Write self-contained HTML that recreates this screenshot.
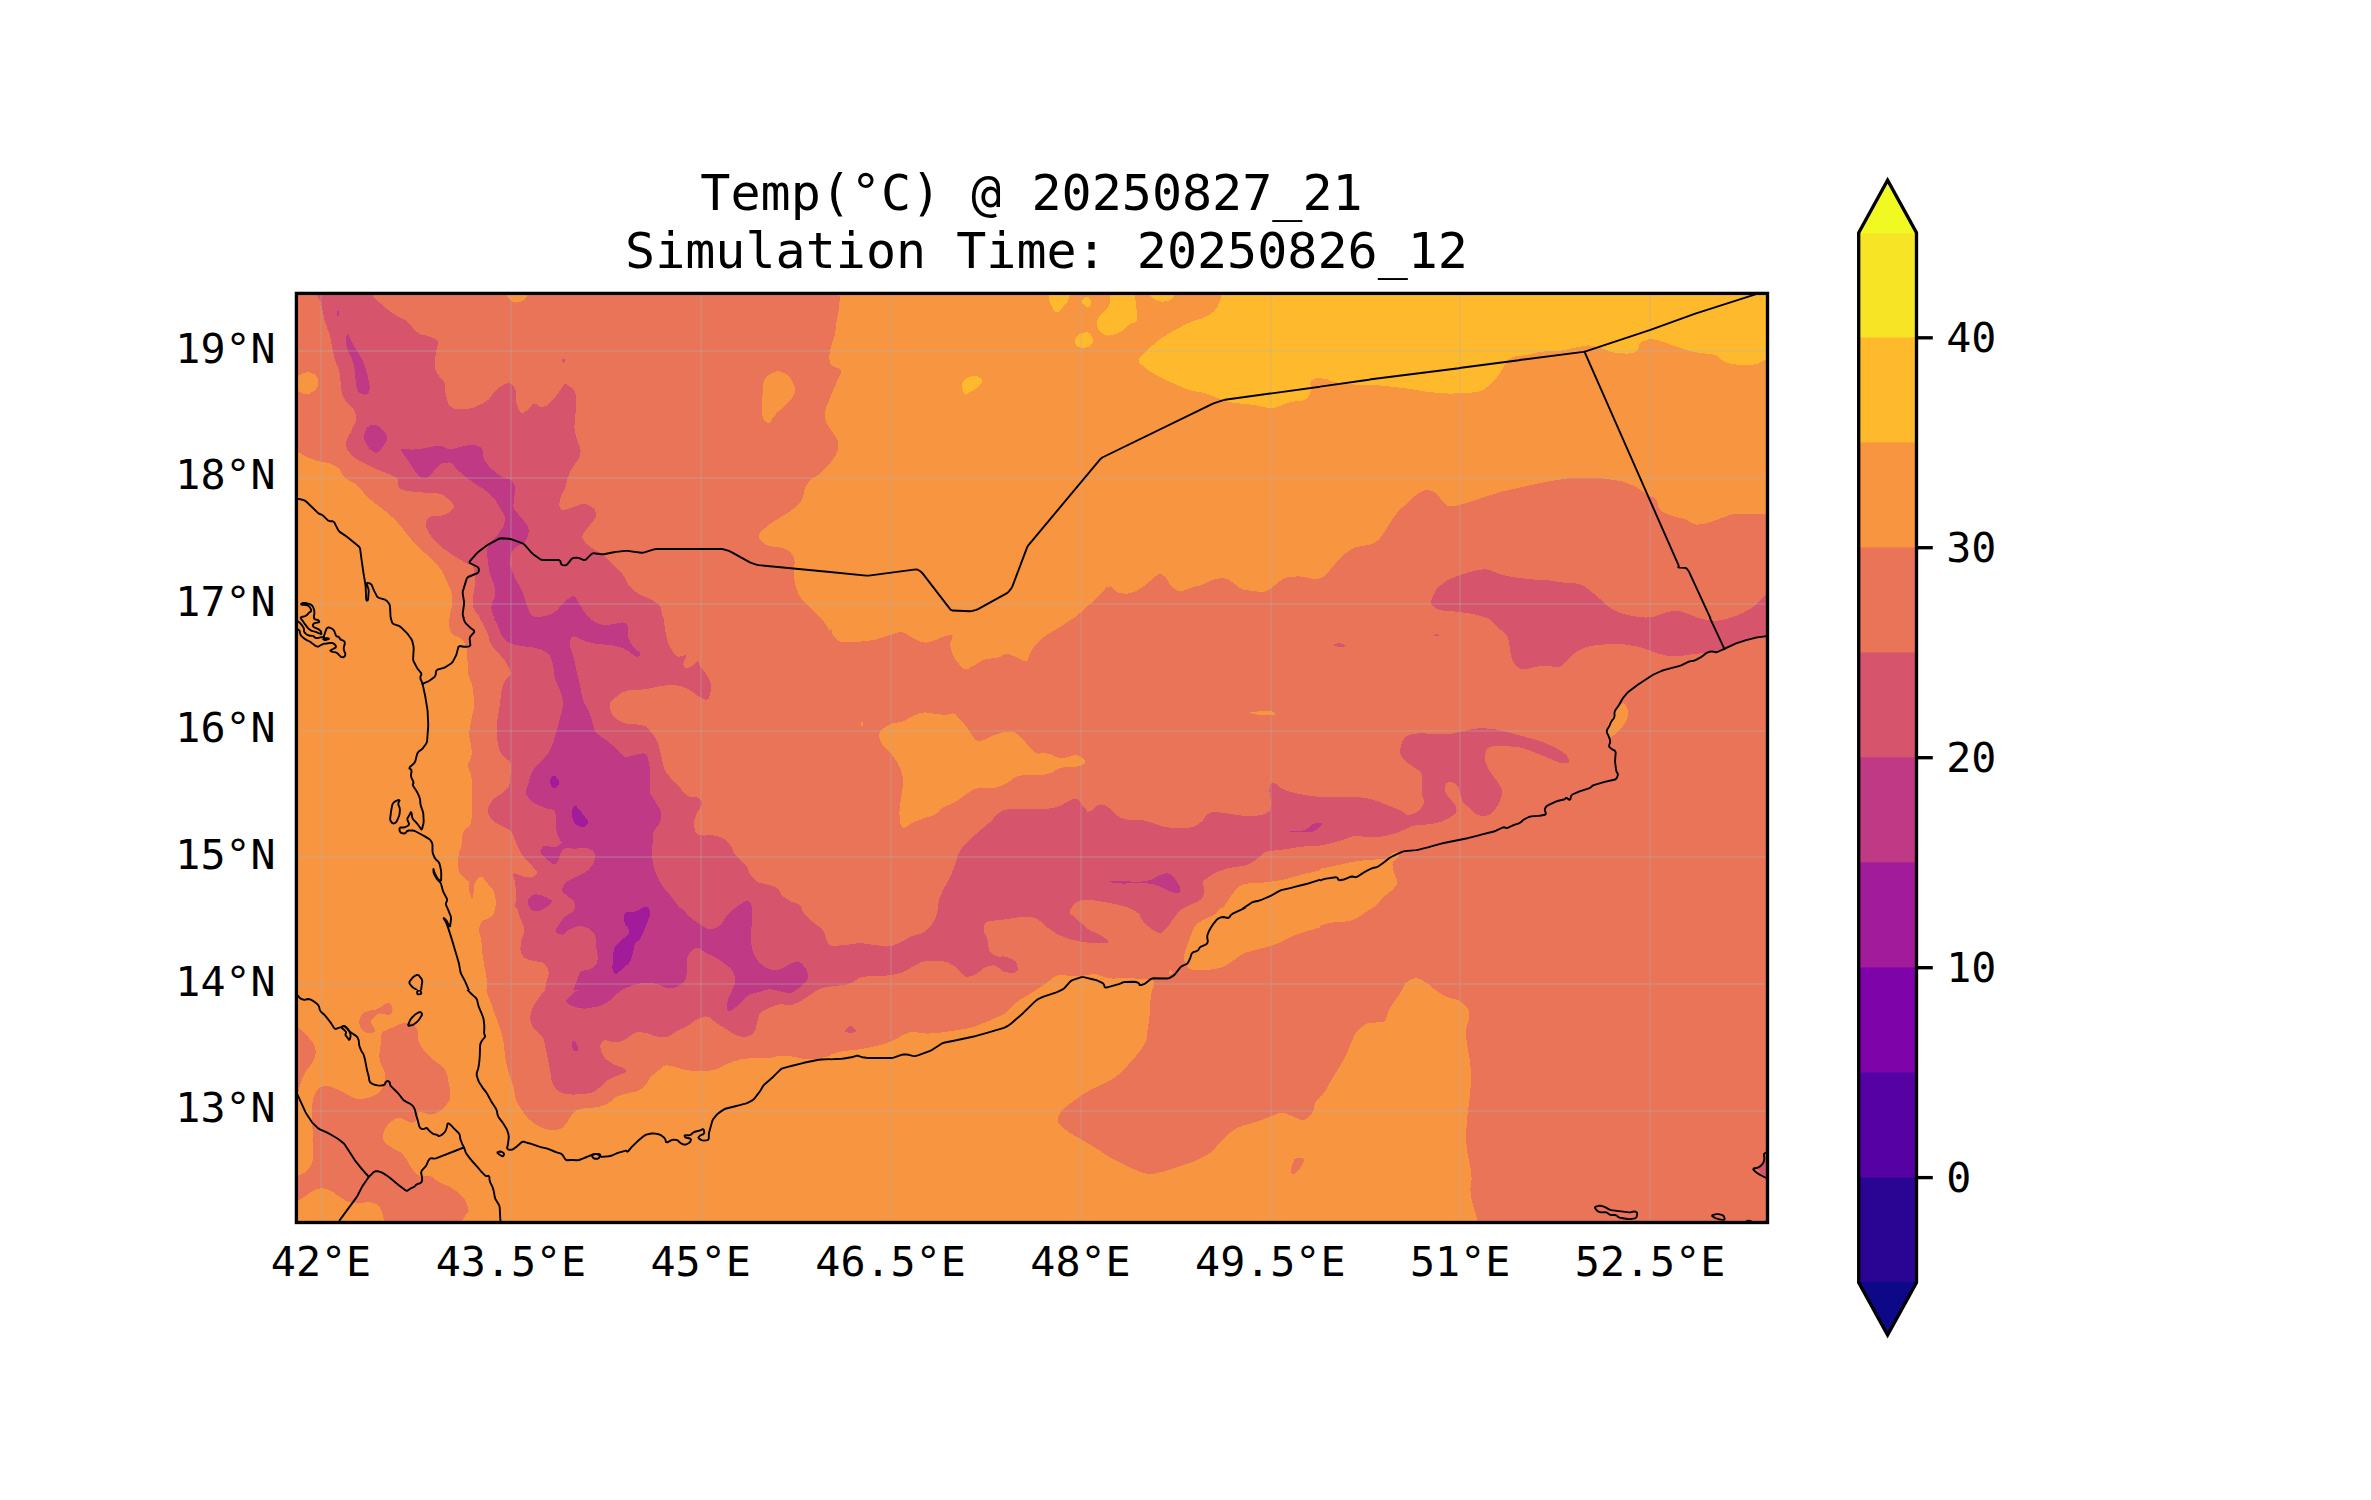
<!DOCTYPE html>
<html lang="en"><head><meta charset="utf-8"><title>Temp map</title>
<style>html,body{margin:0;padding:0;background:#fff}body{width:2371px;height:1500px;overflow:hidden}svg{display:block}text{font-family:"DejaVu Sans Mono","Liberation Mono",monospace;fill:#000}.t{font-size:50px;text-anchor:middle}.k{font-size:41.67px}</style></head><body>
<svg width="2371" height="1500" viewBox="0 0 2371 1500">
<defs><clipPath id="mapclip"><rect x="296.4" y="293.4" width="1471.1" height="929.1"/></clipPath>
<clipPath id="c0"><rect x="296" y="293" width="534" height="325"/></clipPath>
<clipPath id="c1"><rect x="830" y="293" width="490" height="325"/></clipPath>
<clipPath id="c2"><rect x="1320" y="293" width="448" height="325"/></clipPath>
<clipPath id="c3"><rect x="296" y="618" width="534" height="290"/></clipPath>
<clipPath id="c4"><rect x="830" y="618" width="490" height="290"/></clipPath>
<clipPath id="c5"><rect x="1320" y="618" width="448" height="290"/></clipPath>
<clipPath id="c6"><rect x="296" y="908" width="534" height="315"/></clipPath>
<clipPath id="c7"><rect x="296" y="990" width="294" height="233"/></clipPath>
<clipPath id="c8"><rect x="830" y="908" width="490" height="315"/></clipPath>
<clipPath id="c9"><rect x="1320" y="908" width="448" height="315"/></clipPath>
<clipPath id="c10"><rect x="296.4" y="598" width="63.6" height="64"/></clipPath>
<clipPath id="lc0"><path clip-rule="evenodd" d="M296,293H830V618H296ZM296.4,598H360V618H296.4Z"/></clipPath>
<clipPath id="lc1"><path clip-rule="evenodd" d="M830,293H1320V618H830Z"/></clipPath>
<clipPath id="lc2"><path clip-rule="evenodd" d="M1320,293H1768V618H1320Z"/></clipPath>
<clipPath id="lc3"><path clip-rule="evenodd" d="M296,618H830V908H296ZM296.4,618H360V662H296.4Z"/></clipPath>
<clipPath id="lc4"><path clip-rule="evenodd" d="M830,618H1320V908H830Z"/></clipPath>
<clipPath id="lc5"><path clip-rule="evenodd" d="M1320,618H1768V908H1320Z"/></clipPath>
<clipPath id="lc6"><path clip-rule="evenodd" d="M296,908H830V1223H296ZM296,990H590V1223H296Z"/></clipPath>
<clipPath id="lc7"><path clip-rule="evenodd" d="M296,990H590V1223H296Z"/></clipPath>
<clipPath id="lc8"><path clip-rule="evenodd" d="M830,908H1320V1223H830Z"/></clipPath>
<clipPath id="lc9"><path clip-rule="evenodd" d="M1320,908H1768V1223H1320Z"/></clipPath>
<clipPath id="lc10"><path clip-rule="evenodd" d="M296.4,598H360V662H296.4Z"/></clipPath>
</defs>
<rect width="2371" height="1500" fill="#fff"/>
<g clip-path="url(#mapclip)">
<rect x="296.4" y="293.4" width="1471.1" height="929.1" fill="#ea7457"/>
<g clip-path="url(#c0)" shape-rendering="crispEdges">
<rect x="295" y="292" width="536" height="327" fill="#ea7457"/>
<polygon fill="#f89540" points="287.4,449.1 293.6,450.1 298,451.8 303,455 307.8,457.4 314.8,460.2 319.7,461.5 325.3,462.2 330,463.6 336.3,466.4 339.9,469.7 342.6,475.3 346.8,479.1 354.5,483.4 359.7,487.8 365.3,494.8 369.7,499.1 375.3,503.4 380.2,507.2 387.2,512.8 392.2,517.2 397.8,522.8 401.6,527.2 405.9,532.8 409.7,537.5 415.3,543.8 420.2,548.7 427.2,555 432.2,559.7 437.8,565.3 441.4,570.2 444.9,577.2 447.5,582.8 450.7,589.8 452.1,595.2 452.4,602.2 451.8,607.2 450.2,612.8 449.6,617.8 449.9,624.8 450.8,629.1 452.9,633.4 455.7,636.1 460.6,638.9 463.3,641.7 465.4,645.9 466.2,651.4 466.2,661.2 462.2,665 289,665 285,661 285,452.8"/>
<polygon fill="#f89540" points="297.6,376.1 304.4,372.6 309.3,372.2 315.2,374.6 317.6,378.4 317.9,385.8 315.6,390.1 309.4,393.6 304.4,393.9 297.6,391.1 295,387.2 295,380.2"/>
<polygon fill="#f89540" points="509,290 524.8,290 528.5,291.1 527.8,293.9 526.7,296.4 524.6,299.9 521.3,301.6 515,302.6 511.1,301.2 507.6,296.8 506,293.9 505.3,291.1"/>
<polygon fill="#f89540" points="765.1,378.6 768.6,375.1 772.1,373 777.4,371.2 781.8,371.8 787.7,375 791.4,379.3 794.9,387 794.9,392.5 791.4,398.8 787.8,403.2 782.2,408.1 778.3,411.6 774.2,415.9 771.8,418.9 770.2,422.4 768.1,422.9 764.6,420.8 762.8,417.8 761.7,412.2 761.5,406.7 762.2,398.3 762.8,391.7 763.5,383.3"/>
<polygon fill="#f89540" points="838.8,287.2 838.8,292.8 839,297.2 839.7,302.8 839.2,308.3 837.1,316.7 836,323.3 835.3,331.7 834.2,337.8 832.1,344.8 830.7,349.7 829.3,355.3 829.3,359.4 830.7,364.3 833.7,367.1 840,369.2 841.4,372.2 838.6,377.8 836.1,383.3 832.6,391.7 829.9,398.3 826.4,406.7 825,412.5 825,418.8 826.6,423.7 830.9,430 833.9,434.4 837.4,439.3 838.5,443.7 837.8,450 835.9,455 831.6,461.3 827.8,466 822.2,471.6 817.8,475.1 812.2,478.6 808.9,481.7 806.1,485.9 804.5,490.2 803.1,497.2 800.3,502.2 794.7,507.8 789.8,511.6 782.8,515.9 776.7,519.7 768.3,525.3 763.5,529.1 759.7,533.4 758.6,536.1 759.6,538.9 761.7,541.4 765.8,544.9 770.2,546.4 777.2,546.8 782.2,547.9 787.8,550.3 791.1,552.9 793.9,557.1 794.7,561.8 794,569.5 794,575.2 794.7,582.2 796.1,587.8 798.9,594.8 802.5,600 808.8,606.3 813.7,611.2 820,617.5 823.6,622.2 826.4,627.8 828.6,631.7 831.4,635.9 834.2,638.6 838.4,641.4 843.3,642.5 851.7,642.5 858.8,642.2 868.7,641.5 876.4,641.5 886.2,642.2 890,638.5 890,289 886,285 842.8,285.0"/>
<polygon fill="#d6556d" points="316.2,286.8 316.2,291.2 317.4,295.4 320.2,301.4 322,307.7 324.2,318.6 326.1,325.2 328.9,332.2 330.6,338.3 332,346.7 333.1,352.2 334.5,357.8 336.1,362.8 338.9,369.8 340.2,376.5 341,388.5 342.4,394.7 345.1,400.3 347.9,403.9 352.1,407.4 354.5,410.9 356.3,416.6 355.7,421.5 352.5,428.5 350.2,433.2 347.4,438.1 346.2,441.9 346.2,446.8 348.2,451 353.1,456.5 358.6,460.5 368.9,465.7 376.2,469 386.3,473 391.9,475.4 396.8,477.8 398.5,480.1 397.8,483.6 398.3,486.1 400.4,488.9 405.2,490.5 416,492 424,492.6 436,492.9 442.2,494.5 447.8,498.5 451,501.4 453.5,504.9 453.5,507.6 451,511.1 447.8,513.3 442.2,515.4 437.5,516.2 431.2,516.2 427.9,518.2 425.8,523.1 426.1,527.2 428.9,532.8 432.2,537.5 437.8,543.8 442.8,548.2 449.8,553.1 455.2,556.7 462.2,560.9 466.9,563.3 471.8,565.4 474,568.2 474.7,573.1 475,577.2 475,582.8 474.4,588.3 473.1,596.7 472.8,602.2 473.5,607.8 475.7,612.2 480.6,617.8 483.6,622.2 486.4,627.8 488.1,632.2 489.4,637.8 491.1,642.2 493.9,647.8 496.7,653.3 500.9,661.7 506.5,665 673.5,665 677,662.8 675.5,657.2 673.9,653.4 671.1,649.1 669.5,645.9 668,641.7 667,637.8 665.6,632.2 664.5,626.7 663,618.3 662,612.8 660.6,607.2 657.8,603.6 652.2,600.1 647.8,597.9 642.2,595.8 637.5,593.1 631.2,588.2 627.9,584.3 625.8,579.4 623.9,576.1 621.1,572.6 618.1,569.3 613.2,564.4 609.3,560.6 604.4,555.7 600.3,552.6 594.7,549.9 590.9,547.4 586.6,543.9 584.2,541 582.1,537.2 583.2,533.4 588.1,527.4 591.5,523.1 595.5,518.2 596.3,514.3 594.5,509.4 591.5,506.6 586,504.2 581.3,504.2 575,506.6 570.3,508.2 564.7,510 561.7,509.8 559.6,507.2 559.3,503.8 560.7,497.5 562.2,493.4 564.8,489.1 566.1,485.3 567.1,479.7 568.6,475.3 571.4,469.7 574.1,465.3 578.4,459.7 580.2,455.6 580.6,450.7 580,447.1 578.2,442.9 576.8,438.8 575,432.5 574.4,427.2 574.8,420.2 575.4,414.2 576.4,405.8 576.4,399.8 575.4,392.8 572.7,388.5 566.8,384.5 563.8,384.3 562,387.5 559.9,390.7 556.4,395.6 552.5,399.9 546.2,405.9 541.5,407.1 536,404.2 532.4,404.5 528.9,408.5 526.4,410.8 523.6,412.9 521.7,412.9 519.6,410.8 518.1,407.8 516.4,402.2 515.9,397.8 516.1,392.2 515.1,388.5 512.4,384.7 509.6,383.4 505.4,383.6 501.6,385.7 495.9,390.6 492.4,394.4 488.9,399.3 483.9,402.9 473.6,407.6 466,409.2 454,408.8 448.9,405.2 446.1,396.1 444.9,390 444.6,383.7 443.2,380.1 440,377.4 437.8,374.3 435.2,369.4 434.7,363.7 435.8,353.9 436.9,348.1 438.6,343.2 437.2,340.1 432,337.4 427.2,335.7 420.2,334.3 415.3,331 409.7,324 404.8,319.9 397.8,316.4 392.8,313.4 387.2,309.1 382,304.8 374.2,297.7 371.2,292.8 371.2,287.2 367.2,285 320.2,285.0"/>
<polygon fill="#d6556d" points="563.2,358.4 564.8,359.6 565.2,360.8 564.3,362.9 563.6,363.2 562.4,361.8 562.1,360.5 562.4,358.7"/>
<polygon fill="#bf3984" points="348.3,334 350.4,339.2 352.6,343.5 356.1,349.1 358.9,353.7 362.4,360 364.6,365.2 366.7,372.2 368.1,377.8 369.5,384.8 369.7,388.9 369,392.4 367.6,394 364.9,394.7 362.3,394.2 358.5,392.1 356.7,388.8 355.8,382.5 355.3,377.2 354.7,370.2 353.8,365.3 352,359.7 350.3,355.6 347.9,350.7 346.7,346.8 346,341.9 346.1,338.2 347.1,333.8"/>
<polygon fill="#bf3984" points="337.3,310.4 338.7,311.6 339,312.9 338.3,315.3 337.7,315.9 337,314.9 336.8,313.5 336.8,311.0"/>
<polygon fill="#bf3984" points="370,425.4 376.3,425.1 381,427.9 386.6,435.1 386.5,441.3 380.2,450.9 376,453 370.8,450 367.5,446.4 364.5,440.4 364.2,435.2 366.6,428.2"/>
<polygon fill="#bf3984" points="402.7,448.4 411.5,449.6 417.8,449.4 424.8,448.1 430.2,447 437.2,445.6 442.2,446.1 447.8,448.9 452.8,449.2 459.8,447.1 464.7,445.9 470.3,444.9 474.7,445.2 480.3,446.8 482.7,450 483.1,456.3 484.7,460.7 488.5,465.6 492.8,469.8 499.8,475.7 504.4,478.3 509.3,479.2 512.2,481.3 514.8,485.7 515.3,490.2 514.2,497.2 513.6,501.9 513.4,506.8 514.7,510.4 518.5,514.6 521.6,518.2 525.9,523.1 527.9,526.6 528.9,530.9 528.3,534.7 525.9,540.3 522.8,543.6 517.2,546.4 514.2,548.6 512.1,551.4 510.9,554.7 509.9,560.3 510.2,564.7 511.8,570.3 513.6,574.7 516.4,580.3 518.9,585.2 522.4,592.2 524.6,597.8 526.7,604.8 528.6,609.7 531.4,615.3 535.2,617.2 542.2,616.5 547.2,615.4 552.8,613.3 557.2,610 562.8,603.7 567,599.8 572.2,596 575.5,596.8 578.7,602.7 581.4,607.2 584.9,612.8 588.2,616.4 593.1,619.9 597.2,624.3 602.8,632 605,639 605,661 601,665 501.5,665 497.5,661 497.5,626.5 496.2,620.3 493,614.7 491.6,610.9 491.4,606.7 492.2,603.1 494.6,598.2 495.3,593.8 494.7,587.5 493.5,582.8 491,577.2 489.6,572.2 488.4,565.2 487.7,559.8 487,552.8 487.5,548.4 489.3,544.2 491.6,540.9 495.9,536.6 498.9,533.1 502.4,528.2 504.1,524.3 505.1,519.4 504.3,515.3 501.2,509.7 498.6,505.3 495.1,499.7 491.8,495.9 486.9,491.6 482.8,488.6 477.2,485.1 472.8,482.1 467.2,477.9 463.1,474.6 458.2,470.4 455.1,467.3 452.4,463.5 448.8,462.4 442.5,463.4 438.6,465.4 435.1,469.6 432.4,472.7 428.9,476.5 425.9,478 421.7,478 418.4,475.7 414.1,469.8 410.9,465 406.7,458.7 403.7,454.4 400.5,449.8"/>

</g>
<g clip-path="url(#c1)" shape-rendering="crispEdges">
<rect x="829" y="292" width="492" height="327" fill="#f89540"/>
<polygon fill="#ea7457" points="774,285 834.7,285 839,288.9 839.7,298.7 839.3,306.4 837,318.6 836,325.2 835.3,332.2 833.9,338.3 831.1,346.7 829.7,352.2 829,357.8 829.3,361.2 830.7,364.3 833.7,366.5 840,369 841.4,372.2 838.6,377.8 836.1,383.3 832.6,391.7 829.9,398.3 826.4,406.7 825,412.5 825,418.8 826.6,423.7 830.9,430 833.9,434.4 837.4,439.3 838.5,443.7 837.8,450 835.9,455 831.6,461.3 827.8,466 822.2,471.6 817.8,475.1 812.2,478.6 808.9,481.7 806.1,485.9 804.5,490.2 803.1,497.2 800.3,502.2 794.7,507.8 789.8,511.6 782.8,515.9 777.8,518.1 772.2,519.5 770,516 770,289.0"/>
<polygon fill="#ea7457" points="772.2,547 777.8,547 782.2,547.9 787.8,550.3 791.1,552.9 793.9,557.1 794.7,561.8 794,569.5 794,575.2 794.7,582.2 796.1,587.8 798.9,594.8 802.2,600 807.8,606.3 812.2,611.2 817.8,617.5 821.7,622.2 825.9,627.8 828.6,631.7 831.4,635.9 834.2,638.6 838.4,641.4 843.3,642.5 851.7,642.5 858.8,642.2 868.7,641.5 875.8,640.1 884.2,637.4 890.8,635.2 899.2,632.4 904.7,632.9 910.3,637.1 915,639.9 921.3,642.6 926.2,643.2 932.5,641.8 937.2,640.1 942.8,637.4 946.9,636 951.8,635.3 952.7,637.2 949.8,642.8 949.6,647.2 951.7,652.8 953.1,657.2 954.5,662.8 951,665 774,665 770,661 770,551.0"/>
<polygon fill="#ea7457" points="1028,662.8 1029.5,657.2 1031.1,652.8 1033.9,647.2 1037.2,643.1 1042.8,638.2 1048.3,634.3 1056.7,629.4 1063.3,625.3 1071.7,619.7 1077.8,615 1084.8,608.7 1090.2,603.8 1097.2,597.5 1101.9,592.7 1106.8,586.8 1110.7,586.4 1115.6,591.3 1120.2,593.4 1127.2,593.6 1132.8,592.4 1139.8,588.9 1144.7,585.6 1150.3,580.7 1154.2,577.5 1158.4,574.3 1161.4,574 1164.9,576.5 1167.4,579.6 1170.2,584.9 1173.2,588.1 1178.1,590.9 1182.8,590.9 1189.8,588.1 1194.7,586.6 1200.3,585.4 1204.7,583.8 1210.3,580.7 1214.7,579.2 1220.3,578.3 1224.2,578.4 1228.3,579.6 1232.5,582.1 1238.8,587.4 1244.3,589.9 1252,590.9 1257.2,591.5 1262.8,592.2 1266.9,591.1 1271.8,587.6 1276.2,584.2 1282.5,579 1288.9,576.8 1298.7,576.4 1305.2,577 1312.2,578.8 1317.5,578.8 1323.8,577 1328.7,573.2 1335,565.5 1339.7,560.2 1345.3,554.3 1349.7,550.7 1355.3,547.5 1360.7,545.7 1368.8,544.3 1373.8,543.5 1378.2,542.8 1380,546.5 1380,661 1376,665 1031.5,665.0"/>
<polygon fill="#feba2c" points="1222.2,287.8 1221.5,294.8 1220.2,300.2 1217.4,307.2 1213.8,311.6 1207.5,315.9 1201.7,318.5 1193.3,321 1186.7,323.8 1178.3,328.2 1171.7,331.9 1163.3,336.8 1157.2,341.2 1150.2,347.5 1145.2,352.3 1139.3,358.2 1139.3,362.6 1145.2,367.9 1150.8,371.9 1159.2,376.8 1166.2,380.3 1176.3,384.7 1182.2,387.2 1187.8,389.6 1193.3,391.1 1201.7,392.5 1207.5,394 1213.8,396.5 1218.7,398.5 1225,401 1230.8,402.4 1239.2,403.4 1245.2,404 1252.2,404.7 1257.8,405.7 1264.8,407.3 1269.4,407.9 1274.3,407.6 1279.3,406.2 1287,403 1293.6,401.5 1302.7,400.8 1307.3,398.5 1310.2,393.3 1311,389.1 1310.3,383.4 1311.1,380.5 1313.9,378.7 1317.8,378.2 1324.8,378.6 1329.2,379.6 1333.3,381.7 1337.2,382.8 1342.8,383.5 1349,383.7 1376,383.7 1380,379.8 1380,289 1376,285 1226.5,285.0"/>
<polygon fill="#feba2c" points="1114,285 1131,285 1135,287.2 1135,292.8 1135.3,297.8 1136,304.8 1136.5,309.1 1137.2,313.4 1137.2,316.5 1136.5,320.5 1134.9,322.4 1131.4,323.4 1128.3,325.4 1124.2,329.6 1120.3,332.1 1114.7,334.2 1111.1,335.2 1107.6,335.6 1104.6,334.8 1100.4,332.2 1098.2,329.3 1096.8,324.4 1097.1,320.9 1099.2,316.7 1101.7,313.6 1105.8,310.1 1108,307.4 1109.5,303.9 1110,300.9 1110,296.6 1110,292.8 1110,287.2"/>
<polygon fill="#feba2c" points="1052.8,285 1066,285 1070,287.2 1070,292.8 1069.5,296.6 1068,300.9 1066.4,303.6 1063.6,306.4 1061.7,308.6 1059.6,311.4 1057.9,312.4 1055.8,312.1 1053.9,310.2 1051.1,305.6 1049.7,301.8 1049,296.9 1048.8,292.8 1048.8,287.2"/>
<polygon fill="#feba2c" points="1082.2,300.6 1086,296.9 1088.5,297 1091,301 1091.3,303.9 1089.5,307.4 1087,307.3 1082.5,303.5"/>
<polygon fill="#feba2c" points="1152.8,285 1171,285 1175,287.2 1175,292.8 1173.9,296.2 1171.1,299.3 1168.1,300.8 1163.2,301.7 1159.6,301.3 1155.4,299.5 1152.7,297.9 1149.8,295.8 1148.8,292.8 1148.8,287.2"/>
<polygon fill="#feba2c" points="1080,333.8 1086.3,332 1090,333.4 1093.2,339.1 1093.2,342.6 1090,346.1 1086.3,347.5 1080,347.5 1076.8,346.1 1075,342.6 1075,339.8 1076.8,336.0"/>
<polygon fill="#feba2c" points="965.6,378.5 972.4,376 976.9,376.1 981.8,378.9 982.4,381.8 978.9,386.2 975.9,388.9 971.7,391.1 968.8,392.8 965.7,394.7 964,393.7 962.5,389.3 962.2,385.7 962.8,381.3"/>

</g>
<g clip-path="url(#c2)" shape-rendering="crispEdges">
<rect x="1319" y="292" width="450" height="327" fill="#f89540"/>
<polygon fill="#feba2c" points="1262.2,408 1267.8,408 1271.7,407.6 1275.8,406.6 1280.2,405.1 1287.2,402.4 1293.8,401.1 1303.7,400.7 1308.3,398.2 1310.4,392.3 1311.1,388.1 1310.9,383.2 1311.7,380.5 1314.1,378.7 1317.5,378.2 1323.8,378.6 1328.2,379.6 1333.1,381.7 1338.3,382.9 1346.7,384.1 1354,384.6 1371,384.9 1379,385.4 1391,386.6 1398.3,387.4 1406.7,388.4 1413.8,389.5 1423.7,391.3 1431.5,392.3 1443.5,393.4 1451.3,393.6 1461.2,393.2 1468.3,392.8 1476.7,392.2 1482.2,390.5 1487.8,386.5 1491.9,382.8 1496.8,377.2 1499.9,373.1 1502.7,368.2 1505.1,364.2 1508.6,359 1513.3,356.7 1521.7,355.8 1528.8,354.6 1538.7,352.2 1546.4,351.2 1556.2,351.2 1563.8,350.3 1573.7,347.9 1580.2,346.6 1587.2,345.4 1592.8,345.8 1599.8,347.9 1605.2,349.7 1612.2,352.1 1618.3,353.2 1626.7,353.6 1631.7,353.2 1635.8,351.8 1638,349.3 1639.5,344.4 1641.9,341.7 1646.8,339.6 1651.2,339.1 1657.5,340.1 1663.3,341.8 1671.7,345 1678.8,347.5 1688.7,350.8 1695.8,352.4 1704.2,353.4 1709.4,354 1714.3,354.7 1718.2,356.7 1723.1,360.9 1727.8,363.1 1734.8,364.4 1741.3,365 1751.2,365 1757.8,363.6 1764.8,360.1 1770.2,358.5 1777.2,357.8 1780,353.5 1780,289 1776,285 1264,285 1260,289 1260,404.0"/>
<polygon fill="#ea7457" points="1262.2,588.8 1267.8,588.8 1272.8,586.2 1279.8,579.6 1286.5,576.9 1298.5,576.4 1305.2,577.1 1312.2,579.2 1317.2,579.2 1322.8,577.1 1327.2,573.5 1332.8,566.5 1337.2,561.4 1342.8,555.4 1347.8,551.5 1354.8,547.7 1360.2,546 1367.2,545.3 1371.7,544.2 1375.8,542.1 1379.2,539 1383.3,533.5 1387.1,527.8 1392.9,518.4 1397.2,512.8 1402.8,507.2 1407.8,502.5 1414.8,496.2 1419.6,492.6 1424.9,489.9 1429.2,489.9 1434.8,492.6 1438.2,495.4 1441.3,499.6 1443.7,502.5 1446.8,505.5 1450.6,506.4 1457.4,505.4 1463.8,503.8 1473.7,500.7 1481.3,498.2 1496.2,493.3 1503.9,491.1 1518.6,487.9 1526.4,486.1 1541.1,482.9 1548.9,481.4 1566.1,478.6 1574,478 1596,478 1604,478.6 1618.5,480.7 1625.2,482.4 1632.2,485.2 1637.8,488.2 1644.8,493.1 1649.6,495.8 1654.9,497.9 1657.2,500.7 1657.8,505.6 1659.5,508.9 1663.5,512.4 1667.8,514.6 1674.8,516.7 1679.2,517.8 1683.3,518.5 1687.2,520.1 1692.8,523.6 1697.2,524.7 1702.8,524 1708.3,522.7 1716.7,519.9 1722.8,517.6 1729.8,514.9 1735.2,513.8 1742.2,513.8 1748.3,513.9 1756.7,514.3 1764,514.1 1776,512.9 1780,516.5 1780,661 1776,665 1264,665 1260,661 1260,592.8"/>
<polygon fill="#d6556d" points="1430.9,602.1 1432.1,597.9 1433.6,594.3 1436.4,589.4 1439.7,585.9 1445.3,581.7 1450.2,578.9 1457.2,576.1 1463.3,574 1471.7,571.5 1477.8,570.1 1484.8,569.1 1490.2,570 1497.2,573.2 1503.3,575.2 1511.7,576.8 1518.8,577.9 1528.7,579.1 1535.8,579.6 1544.2,579.9 1551.3,580.7 1561.2,582.3 1568.6,583.2 1577.7,583.6 1583.7,585.7 1590,590.6 1594.7,594.4 1600.3,599.3 1604.2,602.7 1608.3,606.5 1612.2,609.1 1617.8,611.9 1622.8,613.7 1629.8,615.5 1636.4,616.6 1646.2,617.6 1652.8,617.1 1659.8,614.7 1665.2,612.9 1672.2,610.8 1677.2,610.5 1682.8,612 1688.3,613.9 1696.7,617.4 1703.3,619.3 1711.7,620.7 1717.8,620.7 1724.8,619.3 1730.2,617.8 1737.2,615.4 1743.3,612.7 1751.7,608.1 1756.7,604.3 1760.8,599.4 1763.7,596.4 1766.8,593.6 1770.6,592 1777.4,590.5 1780,594 1780,631 1777.4,635.3 1770.6,636 1765.1,636.6 1757.9,637.6 1751.2,639.1 1741.3,641.9 1734.5,644.4 1726.8,647.9 1720.2,650.1 1711.1,652.2 1704.8,653.2 1697.8,653.6 1691.7,654.3 1683.3,655.7 1677.2,656.2 1670.2,656.2 1664.8,655.4 1657.8,653.3 1651.7,651.3 1643.3,648.2 1636.1,646.4 1623.9,644.4 1616.2,643.9 1606.3,644.3 1599.2,644.9 1590.8,645.9 1584.8,647.6 1577.8,651.1 1573.3,654.2 1569.2,658.4 1567,661.1 1565.6,663.9 1561,665 1516.5,665 1512,662.2 1510.5,655.2 1509.2,648.7 1507.1,638.9 1504.3,633.4 1499.4,629.1 1496.1,625.9 1492.6,621.7 1489.3,619.2 1484.4,617.1 1479.2,615.5 1470.8,613.7 1464.2,612.6 1455.8,611.6 1449.2,611 1440.8,610.3 1436,608.6 1432,605.1"/>

</g>
<g clip-path="url(#c3)" shape-rendering="crispEdges">
<rect x="295" y="617" width="536" height="292" fill="#ea7457"/>
<polygon fill="#f89540" points="284,575 441,575 446.1,577.8 448.9,584.8 450.4,590.2 451.6,597.2 451.6,602.8 450.4,609.8 449.7,615.8 449,624.2 449.6,629.1 451.7,633.4 454.7,635.8 460.3,637.9 463.5,640.7 466,645.6 467.1,650.2 467.4,657.2 467.6,663.3 467.9,671.7 469,677.2 471.5,682.8 472.9,689 474.1,701 473.8,708.3 472,716.7 470.7,723.3 469.3,731.7 469.5,738.3 471.3,746.7 471.8,751.6 471.4,755.9 470.4,759.2 468.3,763.4 468.5,767.8 471,774.8 472.1,781.4 472.4,791.2 472.4,798.3 472.1,806.7 471.8,813.3 471.4,821.7 469.9,825.8 466.4,827.9 464.3,830.1 462.7,833.6 462,837.2 462,842.8 461.3,846.7 459.5,850.9 458.6,854.7 458.2,860.3 458.2,864.7 458.6,870.3 460.1,873.9 463.6,877.4 466.1,879.6 468.9,881.7 469.7,884.2 469,888.4 469.5,892.2 471.3,897.8 472.4,898.4 473.4,894.1 473.9,890.3 474.3,884.7 476,880.9 479.8,876.6 482.6,876.9 486.1,881.8 488.9,885.1 492.4,888.6 494.3,892.8 495.7,899.8 495.7,905.2 494.3,912.2 492.4,915.8 488.9,917.9 486.1,919.3 482.6,920.7 480.7,923.2 479.3,928.1 479.3,932.2 480.7,937.8 481.5,943.3 482.2,951.7 478.5,955 284,955 280,951 280,579.0"/>
<polygon fill="#f89540" points="795.5,577.2 797,582.8 799.2,587.8 803.3,594.8 806.8,599.7 811.2,605.3 814.8,609.7 819.4,615.3 822.6,619.7 826.1,625.3 828.6,629.1 831.4,633.4 834.2,636.6 838.4,640.9 843.3,642.5 851.7,642.5 858.8,642.1 868.7,640.9 876.4,640.4 886.2,640.1 890,636 890,579 886,575 799,575.0"/>
<polygon fill="#d6556d" points="473.5,577.2 472.8,582.8 472.4,588.3 472.1,596.7 472.7,602.8 474.3,609.8 476.6,614.7 480.9,620.3 483.6,624.7 486.4,630.3 488.1,634.7 489.4,640.3 491.1,644.2 493.9,648.4 496.7,651.6 500.9,655.9 503.9,659.4 507.4,664.3 509.3,668.2 510.7,673.1 509.9,676.1 506.4,678.9 504.2,682.2 502.1,687.8 501,693.3 500.3,701.7 499.4,707.8 498.1,714.8 497.4,720.2 497.1,727.2 497.1,732.8 497.4,739.8 498.1,744.7 499.4,750.3 501.4,753.9 504.9,757.4 507.4,759.6 510.2,761.7 511.1,765.2 510.7,772.2 510.4,777.2 510.1,782.8 508.6,786.7 505.1,790.8 501.8,793.6 496.9,796.4 493.6,799.2 490.1,803.3 488.5,806.6 487.8,810.9 488.6,814.4 491.4,819.3 494.7,822.4 500.3,825.2 504.4,827.2 509.3,829.6 512.1,832.6 514.2,837.9 515.8,841.9 517.9,846.8 519.9,850.7 522.7,855.6 525.4,859.2 529.6,863.4 532.7,866.7 536.5,870.9 536.8,873.7 533.7,876.8 530.3,877.6 524.7,876.6 520.3,875.4 514.7,873.3 513,874.7 514.5,880.3 515.3,885.2 516,892.2 516,897.8 515.3,904.8 515.8,909.7 517.9,915.3 520.1,920.2 523.6,927.2 524.2,932.8 522.1,939.8 520.7,945.2 519.3,952.2 522.8,955 886,955 890,953.3 890,949.2 888.2,947.5 883.8,947.5 878.3,947 868.7,945.5 861.2,944.7 851.4,944 844.8,944 837.8,944.7 833.1,943.4 828.2,939.1 825.4,935.6 823.3,930.7 820.9,927.7 816.7,924.8 812.8,921.3 807.2,915 803.9,910.7 801.1,906.3 797.8,903.8 792.2,902 788.1,899.9 783.2,896.4 780.7,893.6 779.3,890.1 776.8,887.9 771.9,885.8 767.2,884.5 760.2,883 755.9,880.9 751.6,876.6 749.2,872.8 747.1,867.2 744.9,863.9 741.4,861.1 738.9,858.9 736.1,856.1 734.2,853.1 732.1,848.2 730.1,844.9 727.4,841.4 723.8,838.9 717.5,836.1 711.7,835.2 703.3,835.6 698.9,835 696.1,833.2 694.7,830 694,823.7 694.6,819.1 696.7,813.5 698.9,809.4 702.4,804.8 702.4,801.7 698.9,798.3 695.3,797 689.7,797 685.9,794.9 681.6,789.6 678.3,785.9 674.2,781.6 670.9,778.1 666.7,773.2 664.5,769.3 663,764.4 662,759.8 660.6,752.8 659.2,747.5 657.1,741.2 655.1,737.4 652.4,733.9 649.9,730.9 646.4,726.6 641,724.8 629,724 623.4,722.9 619.2,720.8 616.1,718.6 612.6,715.1 610.8,711.5 609.7,706 610.5,702.4 613.7,698.9 617.2,696 622.8,692 629,690.3 641,689.7 648.9,688.6 661.1,685.9 668.3,685.1 676.7,685.4 682.2,686.5 687.8,689 692.2,691.7 697.8,695.9 701.8,698.2 706.2,700 708.7,698.4 710.5,692.4 711.1,688.1 710.7,683.2 709.3,679.3 706.2,674.4 703.9,671.1 701.1,667.6 699.6,664.9 698.4,661.4 696.8,661.4 693.7,664.9 691.1,666.8 687.6,668.2 685.5,667.9 683.7,665.8 683.2,664.2 683.6,662.1 684.6,659.8 686.7,656 685.2,655.2 679.3,656.8 676,656.1 673.5,652.6 671.4,649.3 668.6,644.4 667,639.8 665.6,632.8 664.7,627.2 664,620.2 662.9,614.8 660.8,607.8 657.8,603.9 652.2,601.1 646.7,598.6 638.3,595.1 633.4,591.8 629.1,586.9 627,582.8 625.5,577.2 621,575 477.8,575.0"/>
<polygon fill="#bf3984" points="490.8,577.2 492.9,582.8 494.1,587.2 495.1,592.8 494.6,597.2 492.2,602.8 491.4,607.2 491.8,612.8 493.2,617.2 496.3,622.8 498.6,627.8 501.4,634.8 504.1,638.9 508.4,642.4 512.8,644.3 519.8,645.7 525,646.5 531.3,647.2 535.7,648 540.6,649.5 544.2,651.1 548.4,653.9 550.7,657.2 552.5,662.8 553.5,667.8 554.2,674.8 555.4,679.7 557.8,685.3 559.6,689.7 561.7,695.3 562.6,699.7 562.9,705.3 562.2,710.2 560.3,717.2 558.8,722.8 557,729.8 555.4,735.2 553.3,742.2 551.7,746.7 549.6,750.9 547.4,754.2 543.9,758.4 540.9,761.7 536.6,765.8 534,769.1 531.5,773.4 530,777.2 528.6,782.8 527.3,786.7 525.7,790.8 526.1,794.1 528.9,798.4 531.7,801.1 535.9,803.9 539.7,805.8 545.3,807.9 549.1,809 553.4,809.7 555.3,812.2 556,817.8 556.2,822.8 556.2,829.8 557.1,834.2 559.2,838.4 560.5,840.7 562,842.3 560.9,844 556.7,846.5 552.5,847 546.2,845.5 542.8,846.5 540.4,850.5 541,853.5 544.8,857.3 547.9,860.1 552.1,863.6 554.6,864.5 556.7,863 558.1,860.9 559.5,856.6 560.8,853.3 562.9,849.2 566.2,847.8 572.5,848.5 577.2,848.5 582.8,847.8 587.2,848.3 592.8,850.4 594.9,853.7 594.6,860 593,864.4 589,869.3 585.3,872.4 579.7,875.2 574.8,877.6 567.8,881.1 564.2,884.3 562.1,888.7 562.6,891.8 566.1,895 569.2,897.4 573.4,900.2 574.9,903.5 574.6,909 572.4,912.3 567.1,915.2 563.9,917.1 561.1,919.2 558.9,922.2 556.1,927.8 556.9,931.1 561.8,933.9 564.6,933.9 566.7,931.1 570.2,929 577.2,926.5 582.2,926 587.8,927.5 591.4,929.5 594.9,933.5 596.2,939 596.2,951 600.2,955 748.5,955 752,951 750.5,939 750.5,931.7 752,923.3 752.4,916.7 752.1,908.3 751,903.9 748.5,901.1 744.8,901.6 737.8,905.9 733.1,909.4 728.2,914.3 724.9,918.2 721.4,923.1 718.4,926 714.1,928.5 710.3,929.3 704.7,928.9 700.3,927.4 694.7,923.9 690.8,920.9 686.7,916.7 683.4,912.8 679.2,907.2 675.9,902.8 671.7,897.2 668.4,893.1 664.1,888.2 661.4,884.3 658.6,879.4 656.7,875.3 654.6,869.7 653.4,865.3 652.4,859.7 652.1,854.8 652.4,847.8 652.6,842 652.9,834.3 654.3,829.9 657.5,826.4 659.4,823.1 661.1,818.2 661.4,814.6 660.4,810.4 658.9,807.1 656.1,802.9 653.8,799.3 650.7,794.4 649.7,789.8 650.3,782.8 650.4,777.2 650.1,770.2 649.2,764.2 647.1,755.8 643.8,753.1 637.5,754.5 632.8,755.5 627.2,757 623.9,756.4 621.1,753.6 618.4,750.9 614.1,746.7 610.3,743.4 604.7,739.1 600.9,736.4 596.7,733.6 594.5,730.3 593.1,724.7 591.7,720 589.6,713.7 587.4,708.8 583.9,702.5 582,696.7 580.6,688.3 579.2,681.7 577.1,673.3 575.7,667.2 574.3,660.2 572.7,654.5 569.9,646.8 569.6,641.8 571.7,636.9 575.2,636.4 582.2,639.9 587.2,641.8 592.8,643.2 598.3,644 606.7,644.7 612.8,645.5 619.8,647 624.1,648.6 628.4,651.4 631.4,653.6 634.9,656.4 637.5,656.8 640.7,655.2 639.6,652.4 633.6,647.1 630.4,642.8 628.3,637.2 627.6,633.1 627.9,628.2 627.3,625.3 625.7,622.9 622.8,622.4 617.2,623.4 612.8,624.2 607.2,625.3 602.8,625 597.2,623.2 593.4,621.1 589.1,617.6 587,614.9 585.5,611.4 583.9,608.6 581.1,605.1 578.7,601.8 575.5,596.9 572.5,596 568,598.5 564.9,601 561.4,604.8 558.4,607.9 554.1,612.1 549.8,614.5 542.8,616.3 538.1,617.1 533.2,617.4 530.4,615.3 528.3,609.7 526.7,605.3 524.6,599.7 522.4,594.8 518.9,587.8 516.4,582.8 513.6,577.2 508.5,575 494,575.0"/>
<polygon fill="#bf3984" points="527.9,899.6 532.1,895.4 536.2,894.3 542.5,895.7 546.9,897.5 551.8,900.7 551.3,903.8 545,908.2 540.3,910.4 534.7,911.6 531.1,909.6 527.6,903.6"/>
<polygon fill="#a11b9b" points="549.9,779.7 552.6,775.8 555.3,776.1 559.2,780.7 559.2,784 555.3,787.8 552.6,787.5 549.9,783.0"/>
<polygon fill="#a11b9b" points="572.1,809.8 574.2,806 576.6,806.5 580.9,811.7 584,815.7 587.8,820.6 588,823.7 585,826.8 581.5,827.1 576,824.7 573.2,821 571.8,814.0"/>
<polygon fill="#a11b9b" points="626.5,912.5 633.5,912.5 638.5,910.9 644.1,906.6 647.4,906.6 650.2,910.9 650.2,915.2 647.4,922.2 644.9,927.8 641.4,934.8 638.9,938.6 636.1,941.4 635,945.2 635,952.2 631,955 619,955 615,953.9 615,951.1 617.8,947.2 627.2,937.8 628.6,932.2 625.1,925.2 623.8,920.3 623.8,914.7"/>

</g>
<g clip-path="url(#c4)" shape-rendering="crispEdges">
<rect x="829" y="617" width="492" height="292" fill="#ea7457"/>
<polygon fill="#f89540" points="793.8,571.1 793.8,573.9 794.3,577.8 795.7,584.8 797.6,590.2 801.1,597.2 804.7,602.8 810.3,609.8 814.7,614.4 820.3,619.3 824.4,622.9 829.3,627.1 831.5,630.1 832.2,633.6 834.2,636.6 838.4,640.9 843.3,642.4 851.7,642.1 858.8,641.7 868.7,640.8 875.8,639.5 884.2,636.8 890.8,634.8 899.2,632.2 904.7,632.7 910.3,636.5 915,639.2 921.3,642.1 926.2,642.6 932.5,641.1 937.2,639.5 942.8,636.8 946.9,635.6 951.8,635.2 952.8,636.9 950.4,641.8 950.2,646.2 951.8,652.5 953.6,656.7 956.4,660.9 959.2,664.3 963.4,668.7 967.2,669.3 972.8,666.2 977.2,663.6 982.8,660.1 987.8,658.6 994.8,658.4 999.4,657.2 1004.3,654.4 1008.7,654.2 1015,656.6 1019.5,658.6 1024.7,661.4 1027.5,660.6 1029.3,655.7 1031.1,651.8 1033.9,646.9 1037.2,643 1042.8,637.8 1048.3,633.8 1056.7,628.9 1063.3,624.8 1071.7,619.2 1077.8,614.5 1084.8,608.2 1090.2,603.3 1097.2,597 1101.9,592.3 1106.8,586.7 1110.7,581.3 1115.6,573.2 1113.5,570 797.8,570.0"/>
<polygon fill="#f89540" points="880.6,730.6 887.4,725.7 892.8,723.3 899.8,722.2 904.7,720.5 910.3,717.5 914.7,715.3 920.3,712.9 925.2,712.4 932.2,713.4 937.2,714 942.8,714.7 947.2,714.6 952.8,713.4 956.1,714.5 958.9,718.5 961.4,721.4 964.9,724.9 967.4,727.9 970.2,732.1 972.2,735.2 974.6,739 977.3,740.5 981.9,740.5 986.2,739.2 992.5,735.8 997.5,733.8 1003.8,732 1008.5,731.5 1014.1,732.2 1017.9,734.3 1022.1,738.7 1025.1,742 1028.6,746 1031.4,748.9 1034.9,752.4 1038.7,753.6 1045,753.2 1049.7,754.1 1055.3,756.9 1059.7,757.9 1065.3,757.6 1069.7,756.7 1075.3,754.8 1079.6,755.9 1084.9,760.6 1084.9,763.5 1079.6,766 1073.7,767.1 1063.9,767.4 1057.8,768.9 1052.2,772.4 1047.2,774.2 1040.2,775.3 1035,775.5 1028.7,774.8 1024,774.9 1018.5,775.9 1014.1,777.9 1008.5,782.1 1003.2,784.9 995.5,787.7 988.9,788.5 979.8,787.8 973.8,789.1 967.5,793.4 962.8,796.7 957.2,800.9 952.2,803.6 945.2,806.4 940.8,809.2 936.7,813.4 932.2,815.8 925.2,817.9 920.3,819.6 914.7,821.7 910.6,823.9 905.7,827.4 902.9,827.7 900.8,824.8 899.8,820.7 899.4,813 899.7,807.2 900.8,800.2 901.6,794.8 902.6,787.8 902.9,782.5 902.6,776.2 901.4,771.3 898.6,765 895.9,760.3 891.7,754.7 888.1,750.6 883.2,745.7 880.5,741.3 878.7,735.0"/>
<polygon fill="#f89540" points="1186.1,951.7 1188.9,943.3 1191.3,936.2 1194.9,926.3 1199.3,921.7 1207,919.6 1212.8,916.5 1219.8,911 1224.7,905.5 1230.3,897 1234.4,891.5 1239.3,886 1245.2,883.6 1256,883.2 1264,882.5 1276,881 1283.9,879.5 1301.1,874.8 1308.9,872.9 1326.1,868.9 1333.9,867.1 1351.1,863.4 1359,861.9 1376,859.3 1380,862.8 1380,904.8 1378.2,909.3 1373.8,910.7 1368.4,913.1 1358.6,918.2 1351.2,920.5 1341.3,922 1333.8,924.1 1323.7,928.4 1316.7,930.8 1308.3,932.9 1302.8,934 1297.2,934.7 1291.7,936.7 1283.3,940.8 1277.2,944.1 1270.2,948.4 1266.4,951.1 1263.6,953.9 1258.5,955 1189,955.0"/>
<polygon fill="#f89540" points="1249.9,712.2 1257.1,711.5 1263,711.2 1270.7,711.2 1274.1,712.2 1275.1,714.6 1272.1,715.4 1263.4,715.1 1257.1,714.5 1249.9,713.0"/>
<polygon fill="#f89540" points="861.1,722.4 862.5,722.1 863.1,722.8 863.4,724.7 862.9,725.7 861.6,726.3 860.9,725.6 860.6,723.4"/>
<polygon fill="#d6556d" points="772.2,892 777.8,892 782.2,894 787.8,899.2 791.9,902.1 796.8,904.2 800.1,907.2 803.6,912.8 806.6,916.4 810.9,919.9 815,923.2 821.3,928.1 824.3,932.2 825.7,937.8 827.1,941.4 829.2,944.9 833.3,946 841.7,945.3 848.3,944.6 856.7,943.4 863.3,943.4 871.7,944.6 878.3,945.4 886.7,946.6 892.8,945.7 899.8,942.5 904.7,940 910.3,936.8 915,935 921.3,933.5 926,930.7 931.6,924.8 934.6,920.3 936.7,914.7 937.8,909.8 938.5,902.8 939.6,898.1 941.7,893.2 944.1,888.2 948.4,880.5 951.1,874.8 953.9,867.8 955.8,862.2 957.9,855.2 960.1,850.6 963.6,845.7 967.8,841.3 974.8,835 980.2,830.3 987.2,824.7 991.7,820.6 995.9,815.7 999.2,812.8 1003.3,810.2 1009,809.2 1021,808.8 1029,808.8 1046,808.8 1052.2,808.2 1057.8,806.8 1062.2,804.9 1067.8,801.4 1071.8,799.6 1076.2,798.6 1079.3,800.3 1082.5,805.5 1084.9,808.7 1087.7,811.8 1091,811 1096.5,805.8 1100.7,804.3 1105.6,805.7 1110,808.7 1116.3,815 1121.2,818 1127.5,819.5 1132.2,819.9 1137.8,819.6 1142.8,820.3 1149.8,822.2 1155.5,824 1163.2,826.5 1169.3,827.6 1177,827.9 1182.8,827.9 1189.8,827.6 1194.4,826.4 1199.3,823.6 1202.3,820.9 1205.2,816.7 1207.6,814.3 1211.1,812.5 1215.2,812 1222.2,812.7 1228.3,813.5 1236.7,815 1242.8,815.8 1249.8,816.5 1256.2,815.9 1265.8,813.8 1269.9,810.7 1270.9,804.8 1270.8,800.3 1269.7,794.7 1269.4,790.6 1269.8,785.7 1270.8,783.4 1272.9,782.4 1275.7,783.6 1280.6,787.7 1285.2,790.1 1292.2,792.4 1298.8,793.9 1308.7,795.6 1316.3,796.5 1326.2,797.2 1334,797.4 1351,797.1 1359,796.9 1376,796.4 1380,800.3 1380,833.5 1378.2,837.6 1373.8,837.9 1368.3,837.5 1358.7,836.1 1352.2,836.5 1345.2,839 1338.7,841.2 1328.8,844.3 1321,845.6 1309,846.1 1301,846.8 1284,849.4 1276.7,850.3 1268.3,851 1263.3,852.9 1259.2,857.1 1255.3,860.2 1249.7,864 1243.7,865.9 1233.8,867.1 1226.7,868.6 1218.3,871.4 1212.8,874 1207.2,878 1204.5,880.2 1203.1,881.8 1203.1,884.4 1204.5,889.3 1204.2,893.2 1202.1,898.1 1198.8,901.1 1192.5,903.9 1187.8,906.1 1182.2,908.9 1178.3,912.2 1174.2,917.8 1171.1,921.9 1167.6,926.8 1164.9,929.9 1161.4,932.7 1158.4,932.9 1154.2,930.8 1150.3,928.1 1144.7,923.2 1141.7,919.3 1139.6,914.4 1135.7,911.1 1128,907.6 1121.1,905.4 1108.9,902.8 1101.2,901.5 1091.3,900 1085,899.9 1078.7,900.9 1074.5,903.6 1070,909.6 1070.3,913.6 1075.5,917.9 1079.7,921.5 1085.3,926.7 1090.2,930 1097.2,933.2 1102.2,936.1 1107.8,940.4 1108.4,942.4 1104.2,943.4 1098.7,943.5 1088.9,942.8 1081.2,942 1071.3,940.6 1064.8,938.9 1057.8,936.1 1052.8,933.1 1047.2,928.2 1042.8,924.3 1037.2,919.4 1031.7,917.2 1023.3,916.5 1016.7,917 1008.3,918.8 1001,919.9 990.2,920.9 985.5,923.2 983.7,928.1 984,932.2 986.5,937.8 987.6,943.3 987.9,951.7 984,955 774,955 770,951 770,896.0"/>
<polygon fill="#bf3984" points="1110.2,881.5 1117.2,881 1123.8,881 1133.7,881.7 1140.2,881.7 1147.2,880.8 1152.2,879.3 1157.8,876.2 1161.9,874.5 1166.8,873.1 1170.1,873.9 1173.6,877.4 1176.1,880.4 1178.9,884.6 1180.2,887.6 1180.6,891.1 1178.9,892.6 1174.3,892.9 1170.3,891.8 1164.7,888.7 1160.3,886.7 1154.7,884.6 1149.8,883.6 1142.8,883.2 1136,883.1 1124,883.6 1117.2,883.3 1110.2,882.2"/>
<polygon fill="#bf3984" points="1284.3,831.8 1292,831.4 1297.2,831.1 1302.8,830.7 1306.9,828.9 1311.8,824.7 1316,823 1321.6,823 1321.8,824.9 1316.9,829.8 1311.7,831.9 1303.3,832.3 1296,832.4 1285.2,832.1"/>

</g>
<g clip-path="url(#c5)" shape-rendering="crispEdges">
<rect x="1319" y="617" width="450" height="292" fill="#ea7457"/>
<polygon fill="#d6556d" points="1430.9,602.1 1432.1,597.9 1433.6,594.3 1436.4,589.4 1439.7,585.9 1445.3,581.7 1450.2,578.9 1457.2,576.1 1460,573.9 1460,571.1 1464,570 1501,570 1507.2,571.6 1512.8,575.9 1518.8,577.9 1528.7,579.1 1535.8,579.6 1544.2,579.9 1551.3,580.7 1561.2,582.3 1568.6,583.2 1577.7,583.6 1583.7,585.7 1590,590.6 1594.7,594.4 1600.3,599.3 1604.2,602.7 1608.3,606.5 1612.2,609.1 1617.8,611.9 1622.8,613.7 1629.8,615.5 1636.4,616.6 1646.2,617.6 1652.8,617.1 1659.8,614.7 1665.2,612.9 1672.2,610.8 1677.2,610.5 1682.8,612 1688.3,613.9 1696.7,617.4 1703.3,619.3 1711.7,620.7 1717.8,620.7 1724.8,619.3 1730.2,617.8 1737.2,615.4 1743.3,612.7 1751.7,608.1 1756.7,604.3 1760.8,599.4 1763.7,596.4 1766.8,593.6 1770.6,592 1777.4,590.5 1780,594 1780,631 1777.4,635.3 1770.6,636 1765.1,636.6 1757.9,637.6 1751.2,639.1 1741.3,641.9 1734.5,644.4 1726.8,647.9 1720.2,650.1 1711.1,652.2 1704.8,653.2 1697.8,653.6 1691.7,654.3 1683.3,655.7 1677.2,656.2 1670.2,656.2 1664.8,655.4 1657.8,653.3 1651.7,651.3 1643.3,648.2 1636.1,646.4 1623.9,644.4 1616.2,643.9 1606.3,644.3 1599.2,644.9 1590.8,645.9 1584.8,647.6 1577.8,651.1 1573.3,654.2 1569.2,658.4 1565.9,661.7 1561.7,665.8 1557.8,667.2 1552.2,666.5 1547.2,666.2 1540.2,666.2 1534.8,667 1527.8,668.8 1523.6,669.3 1520.1,668.9 1517.4,667.1 1513.9,662.9 1512,658.8 1510.5,652.5 1509.7,647.8 1509,642.2 1508.2,638.6 1506.8,635.1 1504.3,632.4 1499.4,628.9 1496.1,625.9 1492.6,621.7 1489.3,619.2 1484.4,617.1 1479.2,615.5 1470.8,613.7 1464.2,612.6 1455.8,611.6 1449.2,611 1440.8,610.3 1436,608.6 1432,605.1"/>
<polygon fill="#d6556d" points="1400.4,748.1 1401.6,743.2 1403.2,739.9 1406.3,736.4 1410.2,734.6 1417.2,733.4 1423.3,733.3 1431.7,734 1438.3,734.2 1446.7,734.2 1452.8,733.6 1459.8,731.9 1465.8,730.5 1474.2,728.7 1480.8,728.2 1489.2,728.6 1495.8,729.5 1504.2,731.3 1510.8,732.9 1519.2,735.3 1525.8,737.1 1534.2,739.2 1540.2,741.1 1547.2,743.9 1553.3,746.8 1561.7,751.2 1566.3,755.1 1569.5,760.4 1568.9,762.8 1564.3,763.5 1559.8,762.7 1552.8,759.9 1546.7,757.4 1538.3,753.9 1531.7,751.3 1523.3,748.2 1516.7,746.8 1508.3,746.4 1501.7,746.2 1493.3,746.2 1489.1,747.1 1486.7,749.2 1485.6,752.2 1485.2,757.8 1485.5,761.7 1487,765.8 1488.6,769.1 1491.4,773.4 1494.2,777.2 1498.3,782.8 1500.5,786.7 1502,790.8 1502,794.4 1500.5,799.3 1498.9,803.2 1496.1,808.1 1493.9,811.1 1491.1,813.9 1488.3,815.3 1484.2,816 1480.9,815.7 1476.7,814.3 1473.6,812.4 1470.1,808.9 1467.4,806.3 1463.9,803.2 1462,799.9 1460.5,794.6 1459.4,790.8 1458.1,786.7 1455.9,784.2 1451.7,782.1 1449,781.8 1446.5,783.2 1445.4,785.7 1445.1,790.6 1446.1,793.9 1448.9,797.4 1451.2,800.1 1454.3,803.6 1455.8,806.6 1456.7,810.9 1455.5,813.6 1451.5,816.4 1447.8,818.6 1442.2,821.4 1437.2,822.9 1430.2,824.1 1424.8,824.6 1417.8,824.9 1413.1,825.8 1408.2,827.9 1403.8,829.9 1397.5,832.7 1391.2,834.6 1381.3,836.7 1374.8,837.4 1367.8,837.1 1362.8,836.7 1357.2,835.8 1352.2,836.5 1345.2,839 1338.7,841.1 1328.8,843.9 1321,845.2 1309,846 1301.1,846.9 1288.9,848.9 1281.7,849.7 1273.3,850.3 1267.8,850.7 1262.2,851.1 1260,847.2 1260,785.2 1262.2,781.4 1267.8,781.8 1271.1,782.4 1273.9,783.4 1276.7,785.1 1280.8,788.6 1285.8,791 1294.2,793.5 1301.5,795 1316,797 1324,797.4 1341,797.1 1348.3,797 1356.7,797 1363.3,797.7 1371.7,799.3 1378.3,801.4 1386.7,804.9 1392.8,807.4 1399.8,810.1 1403.6,812.2 1406.4,814.8 1409.7,815 1415.3,813.2 1419.2,810.4 1423.3,805.1 1424.3,801.2 1422.7,796.8 1422.1,792.8 1422.4,787.2 1422.4,782.2 1422.1,775.2 1419.9,771.1 1414.6,767.6 1410.8,765.2 1406.7,762.3 1404,759.9 1401.5,756.4 1400.4,753.9 1400.1,751.1"/>
<polygon fill="#d6556d" points="1333.8,644.2 1338.2,643.3 1341.5,643.5 1345.5,645 1345.5,646 1341.5,647.5 1338.2,647.2 1333.8,645.3"/>
<polygon fill="#d6556d" points="1433.9,634.8 1436.1,634.2 1437.7,634.3 1439.3,635 1439.2,635.5 1437.1,636 1435.5,636 1433.7,635.3"/>
<polygon fill="#bf3984" points="1284.3,831.8 1292,831.4 1297.2,831.1 1302.8,830.7 1306.9,828.9 1311.8,824.7 1316,823 1321.6,823 1321.8,824.9 1316.9,829.8 1311.7,831.9 1303.3,832.3 1296,832.4 1285.2,832.1"/>
<polygon fill="#f89540" points="1262.2,878.6 1267.8,878.2 1273.9,877.3 1286.1,875.2 1293.9,873.8 1308.6,871.2 1316.4,869.7 1331.1,866.6 1338.9,864.9 1351.1,862.1 1359,860.9 1371,859.8 1377.8,859.3 1384.8,858.9 1388.6,857.4 1391.4,853.9 1394.2,852.2 1398.3,851.5 1399.5,852.9 1398,857.1 1396.3,859.6 1393.2,861.7 1392.4,864.7 1393.4,870.3 1394.7,874.7 1397.1,880.3 1396.8,884.2 1393.7,888.4 1390.3,891.7 1384.7,895.9 1381.4,899.2 1378.6,903.3 1374.8,906.6 1367.8,910.9 1362.8,914 1357.2,918 1352.8,920.1 1347.2,921.4 1341.7,922.1 1333.3,922.4 1326.7,923.6 1318.3,926.4 1311.2,928.7 1298.8,932.6 1292.2,935.7 1285.2,940.6 1279.8,943.6 1272.8,946.4 1267.8,948.1 1262.2,949.5 1260,946 1260,882.8"/>
<polygon fill="#f89540" points="1622.1,703.6 1624.2,703.2 1625.8,705.1 1627.9,710.4 1628.2,714.4 1626.8,719.3 1624.9,723.2 1621.4,728.1 1618.4,731.4 1614.2,734.9 1611.7,736.5 1609.6,737.2 1608.4,734.8 1607.4,727.8 1607.9,723.6 1610.3,720.1 1612.4,717.1 1615.2,712.9 1617.3,709.6 1620.2,705.4"/>

</g>
<g clip-path="url(#c6)" shape-rendering="crispEdges">
<rect x="295" y="907" width="536" height="317" fill="#f89540"/>
<polygon fill="#ea7457" points="458,861.1 458,863.9 458.2,866.7 458.6,870.9 460.1,873.9 463.6,877.4 466.1,879.6 468.9,881.7 469.7,884.2 469,888.4 469.5,892.2 471.3,897.8 472.4,898.4 473.4,894.1 473.9,890.3 474.3,884.7 476,880.9 479.8,876.6 482.6,876.9 486.1,881.8 488.9,885.1 492.4,888.6 494.3,892.8 495.7,899.8 495.7,905.2 494.3,912.2 492.4,915.8 488.9,917.9 486.1,919.3 482.6,920.7 480.7,923.2 479.3,928.1 479.3,932.2 480.7,937.8 481.5,943.3 482.2,951.7 483.1,958.3 484.5,966.7 485.6,972.8 486.9,979.8 487.2,984.2 486.5,988.4 487.1,992.2 489.2,997.8 491.1,1002.8 493.9,1009.8 496.1,1015.8 498.9,1024.2 500.8,1030.2 502.9,1037.2 504,1043.3 504.7,1051.7 505.8,1058.3 507.9,1066.7 509.6,1072.2 511.7,1077.8 513,1082.8 514.5,1089.8 516.1,1095.2 518.9,1102.2 521.4,1107.2 524.9,1112.8 527.9,1116.7 532.1,1120.9 535.7,1123.6 540.6,1126.4 544.7,1128 550.3,1129.5 554.7,1129.5 560.3,1128 563.6,1125.9 566.4,1121.7 569.2,1118.1 573.4,1113.2 577.8,1110.5 584.8,1108.7 590.2,1107.8 597.2,1107.2 602.2,1106 607.8,1103.5 611.1,1101.3 613.9,1098.2 617.2,1096.3 622.8,1094.5 627.8,1093.2 634.8,1091.8 639.1,1090.2 643.4,1087.3 646.1,1084.3 648.9,1079.4 651.6,1076.1 655.9,1072.6 659.2,1069.9 663.4,1066.4 666.7,1065.3 670.9,1066 675.2,1067.1 682.2,1069.2 687.8,1070.3 694.8,1071 700.8,1071.1 709.2,1070.7 714.1,1069.8 718.4,1068.2 722.2,1066.4 727.8,1063.6 732.8,1061.7 739.8,1059.6 745.8,1058.6 754.2,1058.2 760.2,1058 767.2,1058 772.1,1057.5 777.4,1056.1 781.8,1055.6 787.7,1055.9 792.6,1056.6 799.4,1058.1 804.8,1058.9 811.9,1059.1 816.9,1058.8 822.4,1057.7 826.6,1056.6 831.9,1055.1 837.9,1053.7 851.1,1050.8 858.9,1049.1 878.1,1044.7 883.8,1043.6 888.2,1043.2 890,1039 890,864 886,860 462,860.0"/>
<polygon fill="#d6556d" points="512.5,862.8 512.5,869.8 513.3,874.7 515.4,880.3 516,884.7 515.3,890.3 515.3,895.2 516,902.2 517.1,907.8 519.2,914.8 521.1,920.2 523.9,927.2 524.2,932.2 522.1,937.8 521,942.5 520.3,948.8 521.1,952.9 523.9,957.1 527.2,959.3 532.8,960.7 536.9,961.5 541.8,962.2 545,964.4 548.2,969.3 548.8,973.7 547,980 546,984.2 545.3,988.4 543.9,992.2 541.1,997.8 538.6,1001.9 535.1,1006.8 532.9,1011.2 530.8,1017.5 530.8,1022.2 532.9,1027.8 536,1032.2 541.5,1037.8 544.3,1043.3 545.7,1051.7 547.1,1058.3 549.2,1066.7 550.5,1072.8 552,1079.8 553.9,1084.4 557.4,1089.3 560.7,1092 565.6,1093.8 570.2,1094.6 577.2,1094.9 582.8,1094.6 589.8,1093.4 594.4,1091.5 599.3,1087.7 602.6,1084.9 606.1,1081.4 609.7,1079 615.3,1076.5 619.6,1074.7 624.9,1072.8 626.6,1071.3 625.4,1069.5 622.8,1067.9 617.2,1065.8 613.1,1063.9 608.2,1061.1 605.1,1058.4 602.4,1054.2 601,1050.9 600.3,1046.7 600.8,1043.8 602.9,1040.7 606.2,1040.3 612.5,1042.2 617.2,1042.3 622.8,1040.7 627.2,1038.2 632.8,1033.8 637.2,1032.1 642.8,1032.4 647.8,1033.5 654.8,1036 659.7,1037.1 665.3,1037.4 669.7,1036 675.3,1032 679.7,1029.6 685.3,1027.2 689.7,1024.6 695.3,1020.4 699.7,1018.1 705.3,1016.4 709.7,1017.5 715.3,1022 719.7,1025.1 725.3,1028.6 729.7,1031.4 735.3,1034.9 739.7,1036.4 745.3,1036.8 749.2,1036 753.3,1033.5 755.5,1029.8 757,1022.8 758,1018.4 759.5,1014.1 762.2,1011.4 767.8,1008.6 772.2,1006.7 777.8,1004.6 782.2,1004.1 787.8,1005.1 792.3,1004.6 798.2,1002.4 802.7,1000 808.3,996 812.2,993.4 816.4,990.6 820.6,988.7 827.4,986.8 834,985.8 845,985.2 850.3,983.9 853.7,981.1 857.2,979.2 862.8,977.1 868.7,976.2 878.3,976.2 883.8,976.2 888.2,976.2 890,972.2 890,864 886,860 516.5,860.0"/>
<polygon fill="#ea7457" points="747.5,861.1 747.5,863.9 748.6,867.2 751.4,872.8 754.2,876.6 758.4,880.9 763.8,883.6 773.7,886.4 778.9,889.4 782.4,894.3 785.7,897.6 790.6,901.1 794.1,903.3 798.4,905.4 801.1,908.2 803.9,913.1 807.2,916.9 812.8,921.8 816.9,925.1 821.8,928.6 824.3,932.2 825.7,937.8 827.1,941.4 829.2,944.9 833.8,946.1 843.7,945.7 851.4,945.1 861.2,944.1 868.7,944 878.3,944.7 883.8,945 888.2,945 890,941 890,864 886,860 751.5,860.0"/>
<polygon fill="#ea7457" points="514.7,873.1 520.3,874.5 524.7,875.5 530.3,877 533.7,876.7 536.8,874.6 536.5,871.8 532.7,866.9 527.3,864.5 516.5,863 512.5,864.7 512.5,870.3"/>
<polygon fill="#bf3984" points="591.2,861.1 591.2,863.9 589.9,866.7 586.4,870.9 582.8,873.9 577.2,877.4 573.1,879.9 568.2,882.7 565.1,885.4 562.4,889.6 562.6,892.4 566.1,895.2 569.2,897.4 573.4,900.2 574.9,903.5 574.6,909 572.4,912.3 567.1,915.2 563.9,917.6 561.1,921.1 558.8,924.6 555.7,929.9 556.5,932.8 561.7,934.7 564.6,934.3 566.7,931.2 570.2,929 577.2,926.5 582.2,926.2 587.8,928 591.4,930.4 594.9,934.6 596.2,938.7 596.2,945 596.6,949.7 597.6,955.3 597.6,959.2 596.6,963.4 594.9,966 591.4,968.5 587.8,969.9 582.2,970.9 579.5,973.2 578,978.1 576.4,982.5 573.6,988.8 570.9,993.5 566.6,999 566.6,1002.5 570.9,1005.7 575.2,1007.4 582.2,1008.4 588.3,1008.2 596.7,1006.8 601.6,1005.4 605.9,1003.3 609.2,1000.9 613.4,996.7 617.2,993.5 622.8,989.5 627.8,987.1 634.8,984.7 640.2,983.5 647.2,982.8 652.2,983 657.8,984.5 661.7,985.8 665.8,987.9 669.7,988.4 675.3,987.4 679.2,985.7 683.4,982.5 685.6,978.8 687,972.5 687.2,967.8 686.5,962.2 687.1,958.1 689.2,953.2 691.7,950.3 695.9,947.9 699.2,948.2 703.3,951.3 707.2,953.5 712.8,956 717.2,958.5 722.8,962.3 726.6,965.1 730.9,968.6 733.2,972.2 735,977.8 735,982.2 733.2,987.8 731.4,992.2 728.6,997.8 727.4,1002.6 727.1,1009.4 728.2,1011.6 731.3,1010.4 734.2,1008.6 738.4,1005.1 741.7,1001.8 745.9,996.9 749.7,994.5 755.3,993 760,991.7 766.3,989.6 771.2,989.3 777.5,990.7 782.2,991.8 787.8,993.2 792.2,992.4 797.8,988.9 801.8,985.9 806.2,981.6 807.9,978.1 807.6,973.2 805.9,968.9 801.6,963.1 797.8,961.4 792.2,963.1 787.8,965.1 782.2,968.6 777.8,970 772.2,970 767.8,968.6 762.2,965.1 758.6,961.8 755.1,956.9 753.2,952.8 751.8,947.2 751.2,941.7 751.2,933.3 751.5,926.7 752.2,918.3 752.4,912.2 752.1,905.2 751,902 748.5,900.5 745.3,901.1 739.7,903.9 735,907.5 728.7,913.8 724.9,918.5 721.4,924 717.8,927.1 712.2,929.2 708.4,929.2 704.2,927.1 699.8,924.3 692.8,919.4 687.8,915 682.2,908.7 677.8,903.2 672.2,895.5 668.4,890.3 664.1,884.7 661.4,880.3 658.6,874.7 656.7,870.9 654.6,866.7 653.8,863.9 653.8,861.1 649.8,860 595.2,860.0"/>
<polygon fill="#bf3984" points="527.9,900.2 532.1,895.6 536.2,894.3 542.5,895.7 546.9,897.5 551.8,900.7 551.3,903.8 545,908.2 540.3,910.4 534.7,911.6 531.1,909.8 527.6,904.2"/>
<polygon fill="#bf3984" points="572.1,1041.8 574.2,1041.4 575.8,1043.2 577.9,1048.1 577.4,1050.4 573.9,1051.6 572.2,1049.8 571.5,1044.2"/>
<polygon fill="#d6556d" points="845.4,1029.9 849.6,1026.4 852.5,1026.5 855.7,1030.5 855.5,1032.2 851.5,1032.8 848.6,1032.6 845.1,1031.6"/>
<polygon fill="#a11b9b" points="626.5,912.4 633.5,912.1 638.5,910.5 644.1,906.5 647.4,906.6 650.2,910.9 650.2,915.2 647.4,922.2 644.9,928.3 641.4,936.7 638.9,940.6 636.1,942 634.5,945.2 633,952.2 632,956.6 630.6,960.9 628.4,963.9 624.1,967.4 621,970.1 617.2,973.6 614.9,973.9 612.8,971.1 612.3,967.2 613,960.2 613.4,955.3 613.6,949.7 615.1,946.1 618.6,942.6 622.5,939.2 628.8,934 629.6,929.9 625.4,924.6 623.8,920.3 623.8,914.7"/>

</g>
<g clip-path="url(#c7)" shape-rendering="crispEdges">
<rect x="295" y="989" width="296" height="235" fill="#f89540"/>
<polygon fill="#ea7457" points="486,987.5 486,989.3 486.5,991.4 487.9,995 489.1,998.2 490.9,1002.6 492.1,1006.2 493.5,1010.6 494.9,1014.5 497.1,1019.9 498.7,1024.1 500.5,1029.5 501.7,1033.7 503.1,1039.1 503.8,1043.3 504.2,1048.7 504.8,1053.3 505.6,1059.5 506.5,1064.1 507.9,1069.5 509.1,1073.7 510.9,1079.1 512.1,1083 513.5,1087.4 514.4,1091.3 515.2,1096.7 516.3,1100.2 518.1,1103.8 519.9,1107 522.5,1111.4 525,1114.8 528.6,1118.8 531.8,1121.6 536.2,1124.8 539.8,1126.7 544.2,1128.5 547.8,1129.5 552.2,1130.2 555.8,1130 560.2,1128.9 563.1,1127.2 565.7,1124 567.9,1121 570.5,1116.6 573,1113.6 576.6,1110.4 580.6,1108.8 587.4,1108 590.9,1107.6 593.1,1107.6 594,1103.6 594,990.8 590,986.8 490,986.8"/>
<polygon fill="#d6556d" points="546,987.5 546,989.3 544.6,991.4 541,995 538.2,998.5 534.6,1003.9 532.5,1008.1 530.7,1013.5 530.2,1017.4 530.6,1021.8 531.7,1025 533.9,1028.6 536.6,1031.4 541,1035 543.3,1038.5 544.7,1043.9 545.7,1048.5 547.1,1054.7 548.1,1060 549.5,1067.2 550.4,1072.5 551.2,1078.7 552.5,1083 554.7,1087.4 557,1090.1 560.6,1092.3 564.1,1093.6 569.5,1094.4 573.7,1094.6 579.1,1094.2 583.1,1093.8 588.1,1093.4 590.9,1093 593.1,1092.6 594,1088.4 594,990.8 590,986.8 550,986.8"/>
<polygon fill="#bf3984" points="566.3,1000.1 568.9,997.5 571.4,995 575,991.4 580.3,990 590.1,990 594,993.9 594,1003.7 591.5,1007.9 585.3,1008.6 581,1008.4 576.6,1007.3 573.4,1006.3 569.8,1004.9 567.7,1003.7 565.9,1001.9"/>
<polygon fill="#bf3984" points="572.3,1041.8 574.1,1041.1 575.3,1041.8 576.7,1044.2 577.6,1046.3 578.4,1048.9 578.3,1050.4 576.9,1051.2 575.7,1051.4 573.9,1051 572.9,1049.7 572.2,1047.1 571.8,1045.1 571.7,1042.9"/>
<polygon fill="#ea7457" points="298.4,1027.9 301.6,1030.5 304.2,1033 307.8,1036.6 310.3,1039.4 312.9,1043 314.4,1046 315.5,1050 315.6,1053.2 314.7,1057.2 313.5,1060.2 311.6,1063.8 309.7,1066.4 307.1,1069.6 305.3,1072.2 303.5,1075.8 302.3,1078.8 300.9,1082.8 299.9,1086.2 298.5,1090.6 297.8,1093.1 297.4,1094.9 295.6,1095.6 291.6,1095.6 290,1091.6 290,1030.8 291.6,1026.8 295.6,1026.8"/>
<polygon fill="#ea7457" points="359.4,1020.9 360.1,1018.3 361.1,1016.1 362.9,1013.5 365,1012 368.6,1010.9 371.6,1010.2 375.6,1009.5 378.4,1008.4 381.6,1006.5 383.9,1004.9 386.5,1002.8 388.2,1002.4 389.8,1003.2 391.1,1005.1 392.6,1009 392.3,1011.6 390.1,1014.5 388.1,1015.2 385.5,1014.4 383.2,1013.8 380,1013.4 377.7,1014.1 375.1,1016.3 373.1,1018.3 370.9,1020.9 370.7,1023.1 372.5,1025.7 373.8,1027.8 375.3,1030.3 375,1031.6 372.6,1032.5 370.7,1033 368.5,1033.4 366.5,1032.9 363.9,1031.4 362.2,1029.9 360.7,1027.7 359.9,1025.7 359.3,1023.1"/>
<polygon fill="#ea7457" points="383,1031.7 387.4,1029.9 391.3,1028.1 396.7,1025.5 400.7,1023.9 405.7,1022.5 409,1022.5 412.6,1023.9 414.9,1025.8 417.1,1029.4 418,1032.7 418,1037.7 418.5,1040.8 419.9,1044 421.6,1047 424.8,1051.4 427.8,1054.8 432.2,1058.8 435.8,1061.6 440.2,1064.8 443.1,1067.4 445.7,1071 447.2,1074.3 448,1079.3 448.8,1083 449.6,1087.4 450,1091.7 450,1097.9 448.9,1101.6 446.3,1104.8 444.1,1107.1 441.5,1109.7 439,1111.5 435.4,1113.3 432.9,1114.2 430.3,1114.6 427.8,1114.3 424.2,1112.9 421.7,1112.3 419.1,1112 417.8,1112.9 417.4,1115.4 417,1117.5 416.6,1120.1 415.3,1121.6 412.7,1122.7 410.2,1122.4 406.6,1120.6 403.8,1119.3 400.2,1117.8 397.4,1117.9 393.8,1119.7 391,1121.8 387.4,1125.4 385.4,1128 383.8,1131.2 383.2,1134.5 383.5,1139.9 384.8,1142.9 388,1145.1 390.6,1146.9 394.2,1149.1 397,1150.7 400.6,1152.5 403.1,1154.6 405.7,1158.2 407.5,1161 409.3,1164.6 411.1,1167.4 413.7,1171 416,1173.4 419.2,1175.9 421.6,1176.6 424.8,1175.9 427.1,1175.7 429.7,1175.8 432.2,1177.1 435.8,1180 438.6,1181.9 442.2,1183.7 445,1184.9 448.6,1186.3 451.8,1188 456.2,1191.2 459.4,1193.8 463,1197.4 465.1,1200.2 466.9,1203.8 467.9,1206.6 468.6,1210.2 468.1,1212.5 466,1214.7 464.5,1216.7 462.7,1219.3 462,1221.5 462,1224.1 458,1225.2 388.4,1225.2 384.2,1223.4 383.8,1219 383.1,1215.6 381.7,1211.6 380.5,1208.9 378.7,1206.3 376.9,1204.7 374.3,1203.3 371.8,1202.6 368.2,1202.2 365.4,1202.4 361.8,1203.2 359,1203.5 355.4,1203.2 352.6,1202.9 349,1202.2 346.2,1201.1 342.6,1198.9 339.8,1196.9 336.2,1194.3 333.4,1192.3 329.8,1190.1 327,1189 323.4,1188.3 320.6,1188.3 317,1189 314.2,1190.1 310.6,1192.3 307.8,1194.3 304.2,1196.9 301.6,1198.7 298.4,1200.5 295.6,1201.6 291.6,1202.4 290,1198.8 290,1180.4 291.6,1176.4 295.6,1176.4 298.8,1175.7 302.8,1173.9 305.6,1172 308.8,1168.8 310.6,1166.2 312.1,1162.6 312.8,1159.1 313.1,1153.7 313,1149.5 312.6,1144.1 312.5,1139.9 312.6,1134.5 312.6,1130.3 312.2,1124.9 312.2,1120.3 312.3,1114.1 312.4,1109.5 312.4,1104.1 312.9,1100.2 314.3,1095.8 315.7,1092.7 317.9,1089.3 320.6,1087.3 325,1085.8 328.2,1085.7 331.8,1087.1 335,1088.4 339.4,1090.3 343,1092.2 347.4,1094.9 351,1096.6 355.4,1098.4 359,1099 363.4,1098.9 367,1098.2 371.4,1096.6 374.6,1095.1 378.2,1093.2 380.5,1091 382.7,1087.4 384,1084.2 384.8,1079.8 385,1076.2 384.6,1071.8 383.5,1068.6 381.3,1065 380.1,1061.8 379.4,1057.4 379.4,1053.8 380.1,1049.4 380.6,1045.8 381.3,1041.4 381.4,1038 381.3,1034.0"/>

</g>
<g clip-path="url(#c8)" shape-rendering="crispEdges">
<rect x="829" y="907" width="492" height="317" fill="#f89540"/>
<polygon fill="#ea7457" points="772.2,1057.2 777.8,1056.5 782.8,1056.8 789.8,1058.2 795.2,1058.9 802.2,1059.3 807.8,1059.1 814.8,1057.9 820.2,1057 827.2,1055.5 832.2,1054.2 837.8,1052.1 843.3,1051 851.7,1050.3 858.3,1049.5 866.7,1048.1 873.3,1046.7 881.7,1044.6 887.2,1042.9 892.8,1040.8 896.7,1038.9 900.9,1036.1 904.7,1034.2 910.3,1032.1 915,1031.8 921.3,1033.2 926.8,1033.6 934.5,1033.2 941.4,1032.5 951.1,1031.1 958.8,1029.8 968.7,1028.2 975.2,1026.4 982.2,1023.6 987.8,1021.3 994.8,1018.2 999.2,1016.3 1003.3,1014.5 1006.4,1012.4 1009.9,1008.9 1012.6,1006.1 1016.1,1002.6 1020.2,999.6 1027.2,995.4 1032.2,992.4 1037.8,988.9 1042.2,986 1047.8,982 1051.4,979.3 1054.9,976.2 1058.7,975.1 1065,975.4 1070.2,975.7 1077.2,976.1 1083.3,975.7 1091.7,974.3 1096.7,974.3 1100.9,975.7 1104.2,976.8 1108.4,978.2 1113.3,978.6 1121.7,978.2 1128.3,978.2 1136.7,978.6 1142.8,978.9 1149.8,979.3 1153,980.2 1154.5,981.8 1154.2,984.7 1152.1,990.3 1151,995.2 1150.3,1002.2 1149.9,1007.8 1149.6,1014.8 1149.1,1020.2 1147.9,1027.2 1147.2,1032.5 1146.5,1038.8 1144.9,1043.5 1141.4,1049 1138.4,1053.2 1134.2,1058.1 1130.3,1062.5 1124.7,1068.8 1120.3,1073.1 1114.7,1077.7 1109.8,1080.8 1102.8,1084.2 1097.2,1086.8 1090.2,1090 1084.8,1093.2 1077.8,1098.1 1072.2,1102.1 1065.2,1107.4 1061.1,1111.8 1057.6,1117.7 1058.2,1122.2 1063.1,1127.8 1068.3,1131.9 1076.7,1136.8 1083.3,1140.7 1091.7,1145.6 1098.3,1149.7 1106.7,1155.3 1113.3,1159.2 1121.7,1163.4 1128.3,1166.5 1136.7,1170.5 1142.2,1172.6 1147.8,1174 1153.3,1173.8 1161.7,1172 1168.3,1170.2 1176.7,1167.4 1183.3,1165.2 1191.7,1162.3 1198.3,1159.6 1206.7,1155.4 1212.2,1151.3 1217.8,1145 1222.2,1140.3 1227.8,1134.7 1232.2,1131.1 1237.8,1127.6 1243.3,1125.4 1251.7,1123.3 1257.8,1121.4 1264.8,1118.6 1270.8,1116.3 1279.2,1113.2 1284.7,1112.9 1290.3,1115.3 1295.2,1117.4 1302.2,1120.2 1306.9,1119 1311.8,1113.5 1314,1109 1314.7,1103.5 1317.2,1099.6 1322.8,1095.4 1326.1,1091.8 1328.9,1086.9 1331.7,1082.2 1335.8,1075.2 1339.2,1069.8 1343.4,1062.8 1346.4,1056.7 1349.9,1048.3 1352.1,1042.5 1354.2,1036.2 1357.2,1031.5 1362.8,1026 1366.5,1023.5 1370.5,1022.8 1373.8,1022.5 1378.2,1022.5 1380,1018.5 1380,920.2 1378.2,915.7 1373.8,914.3 1368.8,914.3 1360.7,915.7 1355.3,917.4 1349.7,920.2 1343.7,922.1 1333.9,924.2 1326.2,926 1316.3,928.5 1308.7,930.7 1298.8,933.8 1292.2,936.4 1285.2,939.9 1279.8,942.4 1272.8,945.2 1266.7,947.1 1258.3,949.2 1252.2,950.8 1245.2,952.9 1240.3,955.4 1234.7,959.6 1230.3,962.6 1224.7,966.1 1218.7,968.2 1208.8,969.8 1201.7,970.4 1193.3,970.1 1188.9,968.6 1186.1,965.1 1184.7,962.4 1184,958.9 1184.3,955.3 1185.7,949.7 1187.1,945.3 1189.2,939.7 1191.1,934.8 1193.9,927.8 1197.2,923.6 1202.8,920.1 1207.2,917.9 1212.8,915.8 1216.7,912.8 1220.9,907.2 1224.7,902.2 1230.3,895.2 1234.4,890.2 1239.3,884.3 1245.2,881.8 1256,881.4 1263.9,880.3 1276.1,877.2 1283.9,875.5 1301.1,872 1308.9,870.5 1326.1,867 1332.8,864.9 1339.8,861.4 1338.5,860 774,860 770,864 770,1053.5"/>
<polygon fill="#d6556d" points="772.2,1004.7 777.8,1004 782.2,1004 787.8,1004.7 792.2,1004.3 797.8,1002.7 802.2,1000.5 807.8,996.5 811.7,993.9 815.8,991.1 820.2,989.2 827.2,987.1 833.3,986 841.7,985.3 846.7,984.5 850.9,983 854.2,981.3 858.4,978.2 863.3,976.7 871.7,976 878.3,975.7 886.7,975.6 892.8,974.8 899.8,973.2 904.7,971.3 910.3,968.2 914.7,965.7 920.3,962.5 925.2,961.1 932.2,960.9 937.2,960.9 942.8,961.1 947.2,962.3 952.8,965.2 956.4,967.7 959.9,971.5 962.2,974 964.6,976.5 967.6,977 972.9,975.5 976.1,974.2 978.9,972.1 981.1,970.3 983.9,967.9 987.2,966.6 992.8,965.4 996.1,965.8 998.9,967.9 1001.1,969.6 1003.9,971.7 1007.8,972.5 1014.8,972.5 1017.5,970.9 1017.5,966.7 1017,964 1015.6,961.5 1012.8,959.6 1007.2,957.2 1003.3,956.4 999.2,956.8 995.9,956 991.7,953.5 989.6,950.9 988.4,946.7 987.9,943.6 987.6,940.1 986.6,937.1 984.2,932.9 983.5,929.6 984.2,925.4 985.2,923.2 986.8,921.8 991.4,920.9 1001.1,919.9 1008.3,919 1016.7,917.5 1023.6,917.1 1032.7,917.4 1038.2,919.3 1043.1,923.9 1047.2,927.3 1052.8,931.4 1057.8,934.3 1064.8,937.5 1071.3,939.6 1081.2,941.7 1088.9,942.8 1098.7,943.5 1104.2,943.4 1108.4,942.4 1107.8,940.4 1102.2,936.1 1097.2,933.4 1090.2,930.6 1085.3,927.3 1079.7,921.7 1075.5,917.9 1070.3,913.6 1070,909.6 1074.5,903.6 1078.7,900.9 1085,899.9 1091.3,900 1101.2,901.5 1108.9,902.8 1121.1,905.4 1128,907.6 1135.7,911.1 1139.6,914.4 1141.7,919.3 1144.7,923.2 1150.3,928.1 1154.2,930.8 1158.4,932.9 1161.4,932.7 1164.9,929.9 1167.6,926.8 1171.1,921.9 1174.2,917.8 1178.3,912.2 1182.2,908.9 1187.8,906.1 1192.5,903.9 1198.8,901.1 1202.1,898.1 1204.2,893.2 1204.5,889.3 1203.1,884.4 1203.1,881.8 1204.5,880.2 1207.2,878 1212.8,874 1218.3,871.4 1226.7,868.6 1233.3,867 1241.7,865.6 1245.5,863.9 1247,861.1 1243.5,860 774,860 770,864 770,1001.0"/>
<polygon fill="#ea7457" points="770,864 770,888.5 772.2,892.8 777.8,893.5 782.2,895.4 787.8,899.6 791.9,902.1 796.8,904.2 800.1,907.2 803.6,912.8 806.6,916.4 810.9,919.9 815,923.2 821.3,928.1 824.3,932.2 825.7,937.8 827.1,941.4 829.2,944.9 833.3,946 841.7,945.3 848.3,944.6 856.7,943.4 863.3,943.4 871.7,944.6 878.3,945.4 886.7,946.6 892.8,945.7 899.8,942.5 904.7,940 910.3,936.8 915,935 921.3,933.5 926,930.7 931.6,924.8 934.6,920.3 936.7,914.7 937.8,909.8 938.5,902.8 939.6,898.1 941.7,893.2 944.1,888.2 948.4,880.5 951.1,874.8 953.9,867.8 955.3,863.9 956,861.1 952.2,860 774,860.0"/>
<polygon fill="#bf3984" points="772.2,972.5 777.8,972.5 781.6,970.9 785.9,966.7 790.1,963.9 796.9,961.1 800.7,961.7 803.8,965.8 805.7,968.9 807.3,972.4 807.9,975.4 807.6,979.6 805.9,982.9 801.6,987.1 797.8,989.9 792.2,992.6 787.8,993.5 782.2,992.8 777.8,992.2 772.2,991.5 770,987.2 770,976.5"/>
<polygon fill="#bf3984" points="1110.2,881.5 1117.2,881 1123.8,881 1133.7,881.7 1140.2,881.7 1147.2,880.8 1152.2,879.3 1157.8,876.2 1161.9,874.5 1166.8,873.1 1170.1,873.9 1173.6,877.4 1176.1,880.4 1178.9,884.6 1180.2,887.6 1180.6,891.1 1178.9,892.6 1174.3,892.9 1170.3,891.8 1164.7,888.7 1160.3,886.7 1154.7,884.6 1149.8,883.6 1142.8,883.2 1136,883.1 1124,883.6 1117.2,883.3 1110.2,882.2"/>
<polygon fill="#d6556d" points="845.4,1029.9 849.6,1026.4 852.5,1026.5 855.7,1030.5 855.5,1032.2 851.5,1032.8 848.6,1032.6 845.1,1031.6"/>
<polygon fill="#ea7457" points="1290.6,1169.6 1292,1165.4 1293.1,1162.5 1294.5,1159.3 1296.9,1158 1301.8,1158 1303.8,1159 1303.8,1161.5 1302.7,1164.2 1299.9,1168.3 1297.7,1171.1 1294.8,1173.9 1292.9,1174.2 1290.8,1172.1"/>
<polygon fill="#f89540" points="1168.7,971 1170.5,970.3 1171.6,970.7 1172.6,972.3 1172.3,973.3 1170.7,974.2 1169.6,973.8 1168.4,972.0"/>

</g>
<g clip-path="url(#c9)" shape-rendering="crispEdges">
<rect x="1319" y="907" width="450" height="317" fill="#ea7457"/>
<polygon fill="#f89540" points="1262.2,875.1 1267.8,875.4 1273.9,874.7 1286.1,872.1 1293.9,870.4 1308.6,867.1 1316.4,865.6 1331.1,863.2 1339,862.3 1388.5,860.2 1392.8,862.8 1393.5,869.8 1394.7,874.7 1397.1,880.3 1396.8,884.2 1393.7,888.4 1390.3,891.7 1384.7,895.9 1381.4,899.2 1378.6,903.3 1374.8,906.6 1367.8,910.9 1362.8,914 1357.2,918 1352.8,920.1 1347.2,921.4 1341.7,922.1 1333.3,922.4 1326.7,923.6 1318.3,926.4 1311.2,928.7 1298.8,932.6 1292.2,935.7 1285.2,940.6 1279.8,943.6 1272.8,946.4 1267.8,947.8 1262.2,948.5 1260,944.7 1260,879.0"/>
<polygon fill="#f89540" points="1262.2,1114.7 1267.8,1114 1272.5,1113.4 1278.8,1112.4 1283.7,1113.2 1290,1116.3 1295.1,1118.3 1301.9,1120.4 1306.5,1119 1311.7,1113.5 1314,1109 1314.7,1103.5 1316.9,1099.6 1321.8,1095.4 1325.1,1091.3 1328.6,1085 1331.7,1079.8 1335.8,1072.8 1339.2,1067.2 1343.4,1060.2 1346.4,1054.2 1349.9,1045.8 1352.1,1040.6 1354.2,1035.7 1357.2,1031.5 1362.8,1026 1367.2,1023.5 1372.8,1022.8 1377.3,1022.4 1383.2,1022.1 1385.9,1019.9 1387.1,1014.6 1388.6,1010.6 1391.4,1005.7 1394.2,1001.6 1398.3,996 1401.4,991 1404.9,984 1408.7,980.4 1415,978.3 1419.4,978.6 1424.3,981.4 1428.2,984.2 1433.1,988.4 1437.8,991.7 1444.8,995.9 1450.2,998.2 1457.2,999.8 1461.9,1002.3 1466.8,1006.9 1468.9,1011 1469.1,1016.5 1468.4,1021.5 1466.3,1028.5 1465.8,1034.3 1466.7,1042 1467.7,1048.3 1469.3,1056.7 1470.3,1063.9 1471,1073.7 1471,1081.4 1470.3,1091.2 1469.5,1099 1468,1111 1467.2,1118.3 1466.5,1126.7 1466.2,1133.3 1466.2,1141.7 1466.8,1148.3 1468.2,1156.7 1469.5,1163.3 1471.3,1171.7 1471.6,1178.8 1470.4,1188.7 1470.7,1195.2 1472.3,1202.2 1474,1208.3 1476.5,1216.7 1477.8,1221.7 1478.5,1225.8 1474.8,1227.5 1264,1227.5 1260,1223.5 1260,1119.0"/>
<polygon fill="#ea7457" points="1291,1169.6 1292.5,1165.4 1293.4,1162.5 1294.6,1159.3 1296.9,1158 1301.8,1158 1303.8,1159 1303.8,1161.5 1302.7,1164.2 1299.9,1168.3 1297.7,1171.1 1294.8,1173.9 1293,1174.2 1291.2,1172.1"/>
<polygon fill="#d6556d" points="1768.2,1156.2 1766.8,1156.2 1765.7,1157.1 1764.3,1159.2 1763.2,1161.4 1761.8,1164.9 1760.4,1166.8 1758.3,1168.2 1758.3,1169.8 1760.4,1172.7 1762.4,1174.5 1765.2,1176.3 1766.8,1177.1 1768.2,1177.4 1768.8,1173.5 1768.8,1160.2"/>

</g>
<g clip-path="url(#c10)" shape-rendering="crispEdges">
<rect x="295.4" y="597" width="65.6" height="66" fill="#f89540"/>

</g>
<g stroke="#b0b0b0" stroke-opacity="0.26" stroke-width="1.9"><line x1="321.0" y1="293.4" x2="321.0" y2="1222.5"/><line x1="511.0" y1="293.4" x2="511.0" y2="1222.5"/><line x1="701.0" y1="293.4" x2="701.0" y2="1222.5"/><line x1="891.0" y1="293.4" x2="891.0" y2="1222.5"/><line x1="1081.0" y1="293.4" x2="1081.0" y2="1222.5"/><line x1="1271.0" y1="293.4" x2="1271.0" y2="1222.5"/><line x1="1460.0" y1="293.4" x2="1460.0" y2="1222.5"/><line x1="1650.0" y1="293.4" x2="1650.0" y2="1222.5"/><line x1="296.4" y1="351.0" x2="1767.5" y2="351.0"/><line x1="296.4" y1="478.0" x2="1767.5" y2="478.0"/><line x1="296.4" y1="604.0" x2="1767.5" y2="604.0"/><line x1="296.4" y1="731.0" x2="1767.5" y2="731.0"/><line x1="296.4" y1="857.0" x2="1767.5" y2="857.0"/><line x1="296.4" y1="984.0" x2="1767.5" y2="984.0"/><line x1="296.4" y1="1111.0" x2="1767.5" y2="1111.0"/></g>
<g clip-path="url(#lc0)" fill="none" stroke="#000" stroke-width="1.9" stroke-linejoin="round" stroke-linecap="round"><polyline points="295,498 295.7,498.2 297.3,498.6 299.2,499 303.8,500.2 305.9,501.3 311.6,506.7 313.3,508.3 317.9,512.9 319.6,514 321.7,514.7 323.3,515.8 327.9,520.4 329.9,521.2 332.6,521.2 334.3,522.3 338.2,530.2 339.7,531.9 345.3,535.6 347.2,537 354.6,543 356.4,544.5 359.1,546.7 360.1,548.7 361.1,556.3 361.4,558.7 363.6,573.8 364,576.2 365.3,583.8 365.6,586.2 366.2,599.3 366.6,600.5 367.6,600.5 368.1,599.3 368.7,591.2 368.4,588.9 366.6,583.6 367.4,582.8 370.1,583.5 371.7,584.9 373.3,588.9 374.3,591.1 377,596.4 378.7,597.8 385.1,599.7 387,601 389.3,604 390,606.2 390.5,616.3 390.9,618.6 392.1,622.6 393.6,624.1 398.9,625.9 400.8,627.1 406.7,632.9 408.2,634.7 411.3,639 412.3,641.2 413.5,646.3 413.7,648.7 413.1,658.8 413,660.0"/><polyline points="453.8,660 454.2,658.9 458.3,647.4 459.9,646.2 468.8,646.2 469.9,645.1 469.6,638.7 470.3,636.6 474.2,632.2 474,630.6 468.5,626.9 467,625.2 463,616.1 462.7,613.8 464.1,603.7 464,601.3 462.7,593.7 462.8,591.4 466.7,578.6 468.1,577 477.6,573 478.8,571.4 478.8,568.6 477.7,567 469.8,563 469.5,561.6 476.7,553.4 478.5,551.8 486.5,545.7 488.6,544.4 498.9,538.8 501.2,538.3 508.8,538.7 511.1,539.2 522.6,543.3 524.5,544.7 531.7,552.8 533.5,554.4 540.3,559.3 542.4,560 558.8,560 560.3,561.1 561,563.9 562.4,565.1 565.1,565.4 567,564.6 571.7,558.9 573.6,557.9 576.4,557.6 578.6,557.9 583.9,560.1 585.8,559.7 591.7,553.8 593.7,553.2 601.3,554.3 603.7,554.3 613.8,552.2 616.2,551.9 625.1,550.9 627.4,550.9 641.3,552.8 643.6,552.6 653.9,549.4 656.2,549 721.3,549 723.6,549.3 728.9,550.9 731,551.8 749,561.9 751.1,562.9 756.4,564.6 758.7,565.1 866.3,575.6 868.7,575.6 880.8,573.9 882,573.8"/></g>
<g clip-path="url(#lc1)" fill="none" stroke="#000" stroke-width="1.9" stroke-linejoin="round" stroke-linecap="round"><polyline points="780,567 781.2,567.1 866.3,575.6 868.7,575.6 915.8,569.4 917.9,569.8 920.3,571.2 922,572.7 950.5,609.6 952.4,610.5 970.1,611.2 972.4,610.9 976.3,609.8 978.5,608.9 1007,593.1 1008.7,591.6 1011.3,588.4 1012.4,586.4 1027.1,547.4 1028.3,545.3 1100.5,458.9 1102.3,457.5 1211.4,404.3 1213.6,403.4 1222.6,400.4 1224.9,399.8 1370.8,379.7 1372,379.5"/></g>
<g clip-path="url(#lc2)" fill="none" stroke="#000" stroke-width="1.9" stroke-linejoin="round" stroke-linecap="round"><polyline points="1270,393.8 1271.2,393.6 1368.8,379.7 1371.2,379.3 1458.8,368.2 1461.2,367.8 1518.8,360.2 1521.2,359.8 1583.3,351.9 1585.6,351.4 1648.9,330.4 1651.1,329.6 1693.9,314.2 1696.1,313.4 1753.9,294.9 1756.1,294.2 1768.9,290.3 1770,290.0"/><polyline points="1584.5,351.8 1585,352.8 1678.5,565.2 1678.8,566.5 1678.2,567.2 1679.2,567.6 1685.1,567.9 1686.8,568.7 1688.2,570.5 1689.3,572.3 1724,647.7 1724.5,648.8"/><polyline points="1692.5,660 1693.6,659.6 1698.9,657.9 1701,656.9 1705.2,654.4 1707.4,653.3 1711.4,651.7 1713.3,651.5 1715.4,652.2 1717.3,652 1722.7,649.3 1724.9,648.3 1736.4,643.5 1738.6,642.6 1753.9,637.9 1756.2,637.4 1766.3,636.4 1767.5,636.2"/></g>
<g clip-path="url(#lc3)" fill="none" stroke="#000" stroke-width="1.9" stroke-linejoin="round" stroke-linecap="round"><polyline points="362.5,575 362.8,576.1 365.2,583.9 365.6,586.2 366.2,598.8 366.6,600 367.6,600 368.1,598.8 368.7,591.2 368.4,588.9 366.6,583.6 367.4,582.8 370.1,583.5 371.7,584.9 373.3,588.9 374.3,591.1 377,596.4 378.7,597.8 385.1,599.7 387,601 389.3,604 390,606.2 390.5,616.3 390.9,618.6 392.1,622.6 393.6,624.1 398.9,625.9 400.8,627.1 406.7,632.9 408.2,634.7 411.3,639 412.3,641.2 413.5,646.3 413.7,648.7 413.1,658.8 413.5,661.1 417,667.7 418.3,669.7 421,672.8 421.4,674.6 420.4,676.7 420.4,678.6 422.1,682.6 422.8,684.9 424.7,693.8 425.2,696.2 427.3,708.8 427.6,711.2 428.2,723.8 428.2,726.2 427.1,741.3 426.3,743.5 423.2,747.8 421.5,749.5 418.5,751.8 417.2,753.7 415.3,761.3 414.1,763.3 409.7,767.2 409.4,768.4 411.1,769.6 411.6,771.2 410.9,775.1 411.3,777.3 413.2,781.4 413.5,783 412.8,784.5 413.2,786 416.8,791.5 417.9,793.6 419.6,797.6 420.1,799.9 420.4,803.8 420.9,806.1 422.8,811.4 423.3,813.7 423.7,821.3 423.4,823.7 422.1,828.8 421.4,829.5 420.4,828.1 419.3,826.5 417,823.5 415.4,821.7 413.3,819.6 412.3,817.6 411.4,812.4 410.7,812.3 409.3,815.2 408.4,816.8 407.4,818.2 407.4,819.9 409.1,823.9 408.4,825.5 405.6,827 403.3,827.5 400.4,827.5 399.4,828.6 399.8,831.4 401.1,832.8 403.9,833.5 405.6,833 407,831.2 408.7,830.5 412.6,830.5 414.8,831 421.4,834.5 423.5,835.6 429,838.9 430.6,840.4 432,842.8 432.5,845 432.5,851.3 432.9,853.6 434.6,857.6 435.9,859.5 438.4,861.7 439.5,863.7 441,870.1 441.2,872.5 441.2,880 440.4,880.7 438.3,879.3 437,877.7 435,873.6 434.2,871.5 433.5,869 433.4,869.2 433.6,872.6 434.4,874.8 436.9,879 438.2,880.5 440,882 441,883.7 442.7,890.1 443.5,892.3 447,898.9 447.1,900.8 445.9,902.9 446,904.9 448.3,910.1 449.2,912.4 450.8,916.4 451,918.6 450.3,921.4 449.4,921.7 448.1,919.6 446.5,918.6 444,918.2 443.7,918.7 445.5,920.5 446.6,922.4 447.7,926.3 448.4,928.6 450.9,936.4 451.6,938.7 454.2,948.8 454.5,950.0"/><polygon points="396.1,800.9 398.9,799.9 399.6,800.4 398.4,802.8 398.4,804.9 399.6,807.7 399.9,809.9 399.6,813.8 399,816.1 396.7,821.4 395.4,822.8 393.3,823.5 392,822.9 390.5,820.8 390.1,818.8 391.1,811.2 391.5,808.8 392.3,804.9 393.1,803.2 394.5,801.8"/><polyline points="475,575 473.8,575.2 469.2,576 467.6,577.4 465.4,583.9 464.7,586.2 462.8,592.6 462.7,594.9 464.1,603.8 464,606.2 462.3,612.6 462.4,614.9 464.6,621.4 465.8,623.3 469.2,626.7 471,628.2 474,630.5 474.2,632.2 470.3,636.6 469.6,638.7 470.4,645.1 469.3,646.4 466.2,646.8 463.8,646.8 459.9,646 458.4,646.9 456.6,653.8 455.7,656.1 453,661.4 451.5,663.2 446,666.8 443.8,667.8 437.4,669.7 436.1,671.2 435.6,675.1 434.5,677 429.7,680.5 427.6,681.7 423.6,683.3 422.5,683.8"/><polygon points="302.4,603.1 306.3,603.6 308.6,604.3 311.4,605.7 312.7,607.4 314,613.8 314.4,616.2 314.9,620.1 316,621.4 318.5,621.8 318.6,622.8 315.2,625.5 314.9,627.3 316.8,630.2 318.5,632 321.5,634.3 322,635.5 320.6,637 318.9,637 316.1,635.5 314,634.4 309.8,631.9 308,630.3 304.5,625.9 302.9,624.2 300.8,622.1 300.8,620.4 304.2,617.1 306,615.5 309,613.2 309.8,611.3 309,607.4 307.6,606 302.4,604.8 301.2,604.2 301.2,603.3"/><polygon points="328.7,628.1 332.6,628.6 334.3,629.8 337,635.2 338.4,637 342.8,640.5 344,642.4 345.3,648.8 345,651.1 343,655.9 341.7,656.5 339.6,655 338,653.6 335.8,650.9 333.9,649.7 331.1,649 331.1,648.3 335.1,646.7 335.8,645.1 334.2,641.6 332.6,640.3 328.2,639.7 326.3,638.8 324.5,637 323.9,635.1 324.3,631.7 325.2,630 326.8,628.6"/><polyline points="298,621.2 298.6,622.3 301.9,627.7 303.4,629.5 309.1,634.2 311.1,635.5 316.4,638.2 318.7,638.9 323.8,639.4 325,639.5"/><polyline points="298,628.8 298.7,629.7 304.3,636.6 306,638.2 311.5,641.8 313.4,643.3 316.6,646.2 318.6,646.5 323.9,644.2 326.2,644 330.1,644.8 331.2,645.0"/></g>
<g clip-path="url(#lc4)" fill="none" stroke="#000" stroke-width="1.9" stroke-linejoin="round" stroke-linecap="round"><polyline points="1198.8,950 1199.5,949 1201.8,946 1203.6,944.5 1206.9,943 1207.8,941.4 1207.2,938.6 1207.5,936.4 1209.5,932.3 1210.7,930.3 1215.6,923.5 1217.2,921.8 1221.6,918.2 1223.7,917.7 1228.8,918.6 1230.3,917.9 1231,915.8 1232.3,914.4 1241.5,909.3 1243.5,908.1 1251.5,902.7 1253.7,901.8 1258.8,900.7 1261.1,900 1268.9,896.7 1271,895.7 1279,891.1 1281.2,890.2 1291.3,887.8 1293.7,887.2 1306.3,884 1308.6,883.4 1323.9,878.6 1326.2,878.1 1336.3,876.4 1337.9,877.1 1338.9,879.2 1340.4,879.7 1343.8,879 1346.1,878.3 1351.4,876.2 1353.6,876 1356.4,876.7 1358.5,876.3 1364,872 1366.1,870.7 1370.9,868.1 1373.1,867.1 1378.9,865.4 1380,865.0"/></g>
<g clip-path="url(#lc5)" fill="none" stroke="#000" stroke-width="1.9" stroke-linejoin="round" stroke-linecap="round"><polyline points="1270,896.2 1271.1,895.7 1278.9,891.8 1281.2,891 1293.8,887.8 1296.2,887.2 1308.8,884 1311.1,883.4 1323.9,879.1 1326.2,878.6 1335.8,877.2 1337.4,877.8 1338.4,879.7 1339.9,880.3 1343.8,879.5 1346.1,878.7 1350.2,876.8 1352.4,876.5 1355.2,877.2 1357.3,876.8 1364,872.4 1366.1,871.2 1371.4,868.5 1373.6,867.8 1376.4,867.2 1378.5,866.3 1382.8,863.2 1384.7,861.8 1389.1,858.2 1391.1,857 1396.4,854.3 1398.6,853.3 1402.6,851.7 1404.9,851.1 1416.3,850.1 1418.7,849.7 1428.8,847.1 1431.2,846.4 1441.3,843.6 1443.7,843 1453.8,841 1456.2,840.5 1466.3,838.5 1468.7,837.9 1478.8,835.3 1481.2,834.7 1493.8,831.5 1496.1,830.7 1502.7,827.5 1504.5,827.3 1506.3,828 1508.1,827.7 1512.7,825.5 1514.9,824.6 1518.9,823.4 1520.8,822.2 1522.9,820.3 1524.8,819 1528.9,817 1531.2,816.4 1538.8,815.8 1541.2,815.5 1545.1,814.7 1545.9,813.4 1544.9,810.6 1544.9,808.8 1545.9,807 1547.3,805.7 1555.2,801.8 1557.4,801 1563.8,799.5 1565.3,798.9 1566,797.9 1567.1,798.2 1569.2,799.8 1570.3,799.3 1571,796.2 1572.4,794.5 1578.9,791.7 1581.1,790.9 1588.9,788.4 1590.6,787.5 1592,786.1 1593.6,785.2 1601.4,782.8 1603.7,782.2 1615.1,779.5 1616.7,778.2 1617.8,775.5 1617.8,773.8 1616.7,772 1616.1,770.1 1615.1,762.4 1615.1,760.1 1615.7,752.4 1614.8,750.7 1612.2,749.3 1610.7,748.2 1609.3,746.8 1609.1,745.2 1610.1,742.4 1610.1,740.2 1609.1,737.3 1608.2,735.2 1606.8,732.3 1606.9,730.2 1608.6,727.3 1609.7,725.2 1610.8,722.4 1612,720.4 1613.8,718.3 1614.5,716.3 1614.5,712.5 1615.2,710.3 1618,706.5 1619.3,704.5 1621.9,699.8 1623.2,697.8 1626.8,693.4 1628.5,691.8 1636.5,685.7 1638.5,684.3 1651.5,675.7 1653.6,674.5 1661.4,671 1663.7,670.2 1678.8,666.1 1681.1,665.3 1688.9,661.7 1691.1,661.1 1693.9,660.7 1696,659.9 1701.5,656.8 1703.3,655.5 1705.4,653.7 1707.3,652.6 1710.2,651.6 1712.4,651.5 1715.2,652.2 1717.4,652 1722.6,649.7 1724.8,648.7 1733.9,644.3 1736.1,643.4 1743.9,640.9 1746.2,640.2 1755.1,637.8 1757.4,637.4 1765.1,636.4 1767.4,636.2 1773.8,635.8 1775,635.8"/><polyline points="1690,575 1690.5,576.1 1724,648.2 1724.5,649.2"/></g>
<g clip-path="url(#lc6)" fill="none" stroke="#000" stroke-width="1.9" stroke-linejoin="round" stroke-linecap="round"><polyline points="432.5,867.5 432.6,868 432.9,869.5 433.5,871.1 435.8,876.4 437.1,878.3 439.2,880.4 440.2,880.1 441,876.2 441.1,873.8 440.1,866.2 440,865.0"/><polyline points="440,881.2 440.3,882.4 442.7,890.1 443.5,892.3 447,898.9 447.1,900.8 445.9,902.9 446,904.9 448.3,910.1 449.2,912.4 450.8,916.4 451.1,918.7 450.1,926.3 449.5,926.4 446.8,921.1 445.5,919.5 443.7,918 443.7,918.5 445.6,921.5 446.6,923.6 447.6,926.4 448.4,928.6 450.9,936.4 451.6,938.6 454.7,948.9 455.3,951.1 458.4,961.4 459,963.7 460.3,971.3 461,973.6 464.5,980.2 465.5,982.4 468.3,988.9 469.5,990.9 475.5,997.8 476.5,999.9 478.5,1007.6 479.3,1009.8 482.5,1016.4 483.1,1018.7 484.1,1026.3 484.4,1028.7 484.9,1035.1 484.3,1037.2 482,1040.3 481,1042.4 479.7,1048.8 479.5,1051.2 479.3,1058.8 479.1,1061.2 478.2,1067.6 477.7,1069.9 476.6,1073.8 476.6,1076.1 478.4,1081.4 479.4,1083.5 483.1,1089 484.5,1090.9 488,1095.3 489.3,1097.3 492,1102.7 493.2,1104.7 496.3,1109 497.3,1111.2 498.5,1116.3 499.4,1118.5 503.1,1124 504.5,1126 506.8,1129 507.8,1131.2 509,1136.3 509.1,1138.7 508.2,1143.8 507.8,1146.1 507.2,1148.9 508.2,1150.1 511.3,1150.4 513.4,1149.7 516.6,1147 518.4,1145.5 522.8,1142 524.8,1141.8 527.7,1143.2 529.9,1143.9 532.6,1144.3 534.9,1144.9 541.4,1147.6 543.7,1148.2 548.8,1149.3 551.1,1150 556.4,1152.5 558.6,1153.4 561.4,1154.6 563.1,1156 565.6,1160.2 567.4,1161 571.3,1160.2 573.7,1160.1 578.8,1160.4 581.1,1160 586.4,1157.3 588.6,1156.3 591.4,1155 593.7,1154.4 598.8,1153.9 600.1,1154.5 600.4,1156.3 601.7,1156.9 608.8,1156.3 611.1,1155.8 616.4,1153.5 618.7,1152.7 625.1,1150.8 626.5,1150.8 627.2,1151.7 628.3,1151.1 630.5,1148.4 632.1,1146.7 636.7,1142.1 638.4,1140.5 644.1,1135.8 646.2,1134.7 651.3,1133.5 653.7,1133.4 658.8,1134.3 661,1135.2 664,1137.5 665.3,1139.3 666,1142 667.3,1142.4 671.5,1140.1 673.6,1139.6 676.4,1139.9 678.1,1140.7 679.5,1142.3 681.1,1143.4 683.9,1144.6 686.1,1144.5 688.9,1143 690.3,1141.7 691,1139.6 690.1,1138.5 686.2,1137.7 684.9,1137 684.6,1135.6 685.7,1135.1 688.8,1135.4 690.8,1134.7 692.9,1132.8 694.9,1131.7 698.8,1130.8 700.8,1130.1 702.9,1129.1 703.9,1129.9 704.3,1132.7 703.5,1134.1 701,1135.1 699.6,1136.1 698.4,1137.5 699,1138.6 701.5,1140.1 703.7,1140.6 707.6,1140.1 708.8,1138.8 708.8,1135 709.1,1132.6 712.2,1121.2 713.2,1119.1 716.8,1114.7 718.5,1113.1 724,1109.4 726.2,1108.5 736.3,1106 738.7,1105.4 746.3,1103.3 748.5,1102.4 752.7,1100.1 754.5,1098.5 759.3,1092.2 760.6,1090.2 763.1,1086 764.7,1084.2 771.6,1078.3 773.3,1076.7 780.4,1069.6 782.4,1068.4 788.8,1066.6 791.2,1066 803.8,1062.8 806.2,1062.3 818.8,1059.7 821.2,1059.5 838.8,1058.8 841.2,1058.6 851.3,1057.2 853.6,1056.7 856.4,1055.8 858.3,1055.9 860.4,1057.1 862.4,1057.6 868.8,1058.1 871.2,1058.2 880.8,1058.2 883.2,1058.2 888.8,1058.2 890,1058.2"/><polyline points="463,1147 463.6,1148 466.9,1154 468.3,1155.9 474.2,1162.8 475.8,1164.7 480.5,1170.3 482,1172.2 484.7,1175.3 486.4,1176.1 488.6,1175.9 489.6,1176.9 489.9,1180.1 490.4,1182.4 492.6,1187.6 493.2,1189.9 494.3,1196.3 495.1,1198.5 499.4,1205.2 500,1207.4 500.5,1220.1 500.5,1221.2"/><polygon points="409.5,981.6 413,977.2 414.7,975.9 417.1,974.9 418.8,975.4 421.7,979.1 422.3,981.2 421.4,987.6 421.1,989.9 420.7,992.6 419.7,993.8 417.6,993.8 416.9,992.9 417.3,990.8 416.4,989.5 413.6,988 411.8,986.5 409.5,983.5"/><polygon points="497.9,1152.7 500.3,1152 502,1152.3 503.8,1153.7 504.2,1154.9 503.3,1156.4 502.1,1156.6 499.7,1155.4 498.4,1154.6 497.4,1153.4"/><polygon points="592.4,1154.7 595.1,1154 597.1,1154.1 599.2,1155.1 599.7,1156.2 599,1158 597.7,1158.8 594.9,1158.8 593.2,1157.9 591.8,1155.8"/></g>
<g clip-path="url(#lc7)" fill="none" stroke="#000" stroke-width="1.9" stroke-linejoin="round" stroke-linecap="round"><polyline points="293.2,991.6 294.1,992.3 296.3,994.1 297.9,995.7 299.7,997.9 301.3,999 303.5,999.7 305.5,999.7 308.1,999 310.2,999.4 313,1000.9 315,1002.3 317.8,1004.5 319,1006.4 319.7,1009.6 320.8,1011.6 323.5,1014 325.2,1015.7 327.6,1018.7 329.1,1020.6 331.2,1023.4 332.5,1025.4 334.2,1028.2 335.5,1029 337.3,1028.3 338.7,1027.9 340.5,1027.3 341.9,1026.9 343.7,1026.2 344.9,1026.5 346.3,1027.9 347.5,1029.2 349.3,1031.1 350.7,1032.4 352.5,1033.5 354.1,1034.6 356.3,1036.1 357.6,1037.5 358.4,1039.6 358.9,1041.5 359,1044.1 359.5,1046.3 360.8,1049.7 361.7,1051.6 363.1,1053.5 363.9,1055.5 364.9,1059.2 365.4,1061.6 366.6,1068 367.1,1070.4 368.4,1075.2 368.9,1077.6 369.4,1080.8 370.3,1082.5 372.4,1083.9 374.4,1084.7 377.6,1085.4 380,1085.6 383.2,1085.3 384.8,1084.4 385.6,1082.3 386.5,1081.4 387.9,1081 388.8,1081.3 389.6,1082.4 390,1083.3 390,1084.7 390.8,1086 393.2,1088.4 394.8,1090 398,1093.2 399.5,1095 402.9,1099.4 404.7,1100.9 407.3,1102.3 409.3,1103.3 411.5,1104.7 412.9,1106.1 414.3,1108.3 415.1,1110.4 415.8,1113.6 416.4,1115.9 417.7,1120.1 418.3,1122.4 419.3,1126.4 420.3,1128 422.1,1129.1 423.7,1129.1 425.9,1128 427.3,1128.3 428.7,1130.1 430.1,1131.5 432.3,1133.3 434.1,1134.2 436.3,1134.6 437.6,1135.2 438.4,1136 439.5,1136 441.3,1135.2 442.7,1134.1 444.5,1132.3 445.6,1130.7 446.4,1128.5 447,1126.6 447.4,1124.1 448.1,1123.3 449.5,1123.9 450.7,1124.9 452.5,1126.8 453.9,1128.3 455.7,1130.1 457.1,1131.5 458.9,1133.3 459.8,1135.2 460.2,1138.4 460.9,1140.7 462.3,1144.1 463.2,1145.9 464,1147.7 464.8,1149.5 465.6,1152.1 466.7,1154.2 470.1,1158.6 471.6,1160.5 476.4,1165.9 478,1167.7 481.2,1171.5 482.8,1173.2 485.2,1175.6 486.7,1176.2 488.5,1175.8 489.3,1176.8 489.6,1180 490.2,1182.3 491.9,1185.7 492.8,1187.9 493.6,1190.5 494.1,1192.8 494.7,1196.8 495.4,1199 499,1205 499.7,1207.2 500.3,1219.2 500.4,1220.4"/><polygon points="341.7,1027.1 343.1,1026 344.3,1026 346.1,1027.1 347.4,1028.4 348.9,1030.5 349.8,1032.2 350.5,1034.6 350.5,1036.7 349.8,1039.3 349.1,1039.9 348,1038.5 347.1,1037.3 345.7,1035.5 345.4,1034.3 346.1,1032.9 345.9,1031.9 344.8,1030.5 343.7,1029.5 341.9,1028.1"/><polyline points="293.2,1089.2 294,1090.1 296.4,1093.1 297.7,1095.1 300.7,1101.7 301.7,1103.9 305.5,1112.1 306.7,1114.2 311.7,1121.8 313.3,1123.6 317.9,1128.1 319.9,1129.4 327.3,1132.7 329.4,1133.8 337,1138.2 338.9,1139.5 343.5,1143.2 345,1144.9 348.6,1150.6 349.9,1152.6 354.9,1160.2 356.3,1162.1 361.3,1168.3 362.8,1170.1 367.6,1175.5 368.4,1176.4"/><polyline points="339.6,1220.4 340.3,1219.4 356.5,1197.4 357.7,1195.3 361.5,1187.9 362.7,1185.8 367.7,1178.5 369.2,1176.6 372.4,1173.3 373.9,1172 375.7,1171.2 377.6,1171.1 380.8,1172.1 383,1173.1 388.2,1176.5 390.1,1178 397.9,1184.4 399.8,1185.9 405.8,1190.6 407.3,1190.8 408.7,1189.7 410.3,1188.7 413.7,1187 415.2,1186 416,1184.9 417.5,1184 420.4,1183.2 421.7,1181.9 422.1,1179.7 422.1,1177.6 421.1,1172.8 421.7,1170.7 425.2,1166.9 426.5,1164.9 428.4,1160.7 429.3,1159.2 430.4,1158.4 431.7,1158.2 433.9,1158.6 435.9,1158.4 462.5,1148 463.6,1147.6"/><polygon points="408.1,1024.9 410.3,1019.9 411.6,1018 414.8,1014.8 416.7,1013.5 419.3,1012.1 420.9,1012.2 422,1013.7 421.8,1015.3 418.7,1020.2 417,1021.9 414.2,1024.1 412,1025.1 408.8,1025.8"/><polygon points="497.6,1152.2 500,1151.5 501.7,1151.8 503.6,1153 504.1,1154.2 503.4,1156 502.3,1156.3 500.4,1155.2 499,1154.3 497.4,1152.9"/><polygon points="417.9,990.6 419.7,990.2 420.6,990.9 421.3,993.1 420.6,994.1 418.2,994.4 417.2,993.7 417.2,991.6"/><polyline points="467.6,990 468.4,990.8 471.6,994 473.3,995.6 476,998 477.1,1000 478.2,1004.8 478.9,1007.1 480.7,1011.3 481.6,1013.5 483.2,1017.7 483.7,1020 484.3,1025.6 484.3,1028 484.1,1032.8 484.4,1034.5 485.2,1035.9 484.7,1037.3 482.8,1039.5 481.6,1041.3 480.5,1043.5 480.1,1045.6 479.9,1052.8 479.8,1055.2 479.4,1060.8 479.1,1063.2 478.5,1067.2 477.9,1069.5 476.8,1072.9 476.7,1075.2 478.1,1080 479.1,1082.2 481.4,1085.8 482.7,1087.8 486.1,1092.2 487.4,1094.3 491,1100.9 492.3,1103 495.7,1108.2 496.7,1110.4 497.7,1115.2 498.7,1117.4 502.1,1121.8 503.4,1123.8 506.2,1128.2 507.2,1130.3 508.5,1134.5 508.8,1136.8 508.2,1142.4 507.8,1144.8 507.1,1148 507.9,1149.4 510.5,1149.8 512.5,1149.5 514.7,1148.1 516.5,1146.8 521.9,1142 523.7,1141.6 525.9,1142.4 527.9,1143 530.5,1143.7 532.7,1144.3 538.5,1146.4 540.8,1147.1 546.4,1148.4 548.7,1149.2 554.5,1151.5 556.7,1152.3 560.9,1153.6 562.6,1155 565.4,1159.4 567.2,1160.3 570.4,1160 572.8,1160 576.8,1160.3 579.1,1160 583.3,1158.4 585.5,1157.5 588.9,1156.1 590,1155.6"/></g>
<g clip-path="url(#lc8)" fill="none" stroke="#000" stroke-width="1.9" stroke-linejoin="round" stroke-linecap="round"><polyline points="780,1070.5 781,1069.9 784,1068.1 786.2,1067.2 793.8,1065.3 796.2,1064.7 803.8,1062.8 806.2,1062.5 811.3,1062.5 813.6,1062.1 818.9,1060.4 821.2,1059.9 841.3,1058.8 843.7,1058.5 851.3,1057.2 853.6,1056.7 856.4,1055.8 858.3,1055.8 860.4,1056.7 862.4,1057.2 866.3,1057.8 868.7,1058 891.3,1058 893.6,1057.6 896.4,1056.6 898.6,1055.9 901.4,1054.9 903.6,1054.5 906.4,1054.5 908.7,1054.8 912.6,1055.9 914.6,1056.1 916.7,1055.7 918.6,1055.1 930.1,1050.9 932.2,1049.8 941.5,1043.7 943.7,1042.8 953.8,1040.7 956.2,1040.3 973.8,1036.5 976.2,1035.9 988.8,1032.3 991.1,1031.7 1003.9,1027.8 1006,1026.9 1009,1025.1 1010.9,1023.7 1021.6,1014.5 1023.3,1012.9 1031.7,1004.6 1033.4,1002.9 1036.6,1000.1 1038.6,998.8 1041.4,997.5 1043.6,996.6 1056.4,992.4 1058.6,991.4 1062.7,989.3 1064.6,987.9 1070.4,981.4 1072.4,980.1 1081.4,977.1 1083.7,977.1 1088.8,978.4 1091.2,979 1096.3,980.2 1098.6,981.1 1102.7,983.2 1104,984.7 1104.7,987.1 1106.2,987.7 1118.8,984.1 1120.8,983.4 1122.9,982.4 1124.9,982 1133.8,981.8 1135.8,982 1137.9,982.7 1139,983.5 1139.7,985 1141.1,985.1 1143.9,984.1 1145.9,983 1150.8,979 1152.9,978.3 1167.6,978.5 1169.8,977.9 1173.5,975.6 1175.2,974 1180.5,967.2 1182.4,965.8 1186.4,964.2 1188,962.7 1189.5,959.8 1190.4,957.6 1191.6,953.6 1193.2,952.2 1196.8,951.1 1198.4,949.9 1199.6,947.8 1201.1,946.6 1205.1,944.9 1206.6,944 1207.6,942.5 1207.8,940.8 1207.2,937.4 1207.4,935.1 1208.4,932.4 1209.4,930.2 1211.9,926 1213.2,924.1 1216.8,919.7 1218.6,918.3 1221.4,917.2 1223.7,917 1227.6,918 1229.3,917.4 1230.7,915.3 1232.3,913.9 1236.4,911.8 1238.6,910.8 1243.9,908.5 1246,907.3 1251.5,903.7 1253.7,902.7 1258.8,901.5 1261.1,900.8 1268.9,897.5 1271,896.4 1279,891.8 1281.1,890.9 1291.4,887.8 1293.7,887.2 1306.3,884 1308.6,883.4 1323.9,878.6 1326.2,878.1 1336.3,876.4 1337.9,877.1 1338.9,879.2 1340.4,879.7 1343.8,879 1346.1,878.3 1351.4,876.2 1353.6,876 1356.4,876.7 1358.5,876.3 1364,872 1366.1,870.7 1370.9,868.1 1373.1,867.1 1378.9,865.4 1380,865.0"/></g>
<g clip-path="url(#lc9)" fill="none" stroke="#000" stroke-width="1.9" stroke-linejoin="round" stroke-linecap="round"><polyline points="1270,896.2 1271.1,895.7 1278.9,891.8 1281.2,891 1293.8,887.8 1296.2,887.2 1308.8,884 1311.1,883.4 1323.9,879.1 1326.2,878.6 1335.8,877.2 1337.4,877.8 1338.4,879.7 1339.9,880.3 1343.8,879.5 1346.1,878.7 1350.2,876.8 1352.4,876.5 1355.2,877.2 1357.3,876.8 1364,872.4 1366.1,871.2 1371.4,868.5 1373.6,867.8 1376.4,867.2 1378.3,866.6 1380.4,865.4 1381.2,865.0"/><polygon points="1595.7,1206.7 1598.8,1205.8 1601.1,1205.8 1603.9,1206.7 1606,1207.6 1609,1209.4 1611.2,1210.1 1618.8,1211.1 1621.2,1211.4 1628.8,1212.4 1631.1,1212.2 1633.9,1211.5 1635.5,1211.6 1637,1212.6 1637.2,1214.2 1636.5,1217.1 1635.1,1218.4 1629.9,1219.1 1627.6,1219 1619.9,1217.7 1618.2,1217 1616.8,1215.6 1615.1,1215 1611.2,1215 1609.2,1214.3 1607.1,1212.7 1605.1,1212.1 1601.2,1212.4 1599.2,1212 1597.1,1210.6 1595.9,1209.3 1594.9,1207.7"/><polygon points="1712.4,1215.2 1716.3,1214.1 1718.7,1214.1 1722.6,1215.2 1724,1216.5 1724.7,1219 1723.9,1219.9 1721.1,1219.6 1718.9,1219.2 1716.1,1218.3 1714.2,1217.5 1712.1,1216.0"/><polyline points="1745,1222 1745.8,1221.7 1747.9,1220.8 1749.6,1220.8 1751.7,1221.7 1752.5,1222.0"/><polyline points="1766.2,1152.5 1765.7,1152.8 1764.3,1153.5 1763.9,1154.9 1764.3,1157.7 1764.2,1159.8 1763.3,1162.7 1762.1,1164.5 1759.6,1166.7 1757.6,1167.7 1753.7,1168.5 1753.3,1169.6 1755.4,1171.7 1757.3,1173.1 1760.2,1174.9 1762.3,1176 1765.2,1177.5 1766.2,1178.0"/></g>
<g clip-path="url(#lc10)" fill="none" stroke="#000" stroke-width="1.9" stroke-linejoin="round" stroke-linecap="round"><polygon points="301.5,603.7 302.8,603 304.3,602.9 306.7,603.3 308.4,603.7 310.5,604.4 311.7,605.2 312.8,606.5 313.4,607.8 314,609.6 314.3,611 314.4,612.8 314.3,614.2 313.9,616 313.9,617.2 314.1,618.5 314.8,619.2 316.1,619.5 317.1,619.8 318.3,620.2 318.9,620.8 319.3,621.9 318.8,622.3 317.3,622.6 316.1,622.8 314.6,623.2 313.7,623.7 313,624.6 312.8,625.4 313.3,626.6 314.2,627.4 316,628.1 317.3,628.7 318.7,629.4 319.7,630.1 320.6,631 321.1,632 321.4,633.8 321,634.2 319.4,633.5 318.1,632.9 316.3,632.2 314.9,631.7 313.1,631.2 311.8,630.8 310.3,630 309.3,629.3 308.1,628.1 307,626.8 305.5,624.9 304.3,623.3 302.9,621.2 301.9,619.9 300.8,618.5 300.6,617.8 301.2,617.2 302.1,616.8 303.8,616.5 305,616.1 306.5,615.4 307.5,614.5 308.7,613 309.7,612.1 310.9,611.4 311.2,610.4 310.7,608.8 310,607.5 308.7,606.1 307.4,605.3 305.6,605.1 304.2,604.9 302.2,604.7 301.3,604.5 301.1,604.1"/><polyline points="295.3,619.9 295.9,620.2 297.4,621.1 298.6,621.9 300.1,623.1 301.2,624.3 302.5,626.1 303.3,627.3 303.9,628.7 304.1,629.7 304,631.1 304.3,632 305.1,633.1 306.1,633.9 307.5,634.9 308.8,635.5 310.6,635.7 311.8,635.9 313,635.9 313.8,636.4 314.5,637.3 315.3,637.8 316.7,638 317.8,638 319.3,637.6 320.5,637.3 321.9,637.1 322.9,637.2 323.8,637.8 324.1,638.0"/><polyline points="295.3,628.4 295.9,628.6 297.4,629.2 298.4,629.7 299.2,630.3 299.7,631.1 299.8,632.6 300.2,633.8 300.9,635.3 301.8,636.4 303.3,637.7 304.6,638.7 306.4,639.9 307.8,640.7 309.6,641.5 310.9,642.3 312.3,643.4 313.5,644.3 315,645.5 316.1,646.2 317.3,646.6 318.2,646.6 319.4,646 320.6,645.3 322.4,644.3 324,643.7 326.4,643.5 328.3,643.2 330.7,642.9 332.2,643 333.7,643.6 334.6,644.3 335.5,645.3 335.9,646.1 335.9,647 335.5,647.6 334.2,648.4 333.1,649 331.7,649.7 330.9,650.2 330.4,650.6 330.7,651 331.7,651.6 332.8,651.9 334.6,652.1 335.8,652.4 337,653 337.9,653.7 339.1,655.1 340,655.9 340.8,656.8 341.7,657.1 342.9,657.3 343.7,657 344.6,656.4 345.1,655.6 345.3,654.3 345.2,653.2 344.6,651.9 344.2,650.7 343.8,649.3 343.7,648.1 344,646.6 344.3,645.4 344.8,643.9 344.8,642.9 344.5,641.7 343.9,641 342.7,640.4 341.8,640 340.6,639.5 339.9,638.8 339.3,637.5 338.5,636.8 337,636.5 336.2,635.9 335.6,634.7 335.2,633.7 334.7,632.2 334.3,631.2 333.7,630.1 332.9,629.4 331.6,628.5 330.5,628 329,627.5 328,627.5 327.2,628 326.6,628.7 326.1,630 325.6,631.1 325.1,632.6 324.7,633.8 324.1,635.3 323.9,636.3 324.1,637.5 324.6,638.1 325.8,638.2 327,638.3 328.8,638.5 329,638.8 327.8,639.4 326.7,639.7 325.3,640 324.4,640 323.6,639.5 323.3,639.3"/></g>
</g>
<rect x="296.4" y="293.4" width="1471.1" height="929.1" fill="none" stroke="#000" stroke-width="3.33"/>
<text class="t" x="1031.5" y="210">Temp(°C) @ 20250827_21</text>
<text class="t" x="1046.5" y="268">Simulation Time: 20250826_12</text>
<text class="k" text-anchor="end" x="275.7" y="362.6">19°N</text>
<text class="k" text-anchor="end" x="275.7" y="489.2">18°N</text>
<text class="k" text-anchor="end" x="275.7" y="615.9">17°N</text>
<text class="k" text-anchor="end" x="275.7" y="742.4">16°N</text>
<text class="k" text-anchor="end" x="275.7" y="869.0">15°N</text>
<text class="k" text-anchor="end" x="275.7" y="995.6">14°N</text>
<text class="k" text-anchor="end" x="275.7" y="1122.2">13°N</text>
<text class="k" text-anchor="middle" x="321.0" y="1276">42°E</text>
<text class="k" text-anchor="middle" x="510.9" y="1276">43.5°E</text>
<text class="k" text-anchor="middle" x="700.7" y="1276">45°E</text>
<text class="k" text-anchor="middle" x="890.6" y="1276">46.5°E</text>
<text class="k" text-anchor="middle" x="1080.5" y="1276">48°E</text>
<text class="k" text-anchor="middle" x="1270.3" y="1276">49.5°E</text>
<text class="k" text-anchor="middle" x="1460.2" y="1276">51°E</text>
<text class="k" text-anchor="middle" x="1650.1" y="1276">52.5°E</text>
<rect x="1858.7" y="232.50" width="57.8" height="105.58" fill="#f7e425"/>
<rect x="1858.7" y="337.48" width="57.8" height="105.58" fill="#feba2c"/>
<rect x="1858.7" y="442.46" width="57.8" height="105.58" fill="#f89540"/>
<rect x="1858.7" y="547.44" width="57.8" height="105.58" fill="#ea7457"/>
<rect x="1858.7" y="652.42" width="57.8" height="105.58" fill="#d6556d"/>
<rect x="1858.7" y="757.40" width="57.8" height="105.58" fill="#bf3984"/>
<rect x="1858.7" y="862.38" width="57.8" height="105.58" fill="#a11b9b"/>
<rect x="1858.7" y="967.36" width="57.8" height="105.58" fill="#7e03a8"/>
<rect x="1858.7" y="1072.34" width="57.8" height="105.58" fill="#5601a4"/>
<rect x="1858.7" y="1177.32" width="57.8" height="105.58" fill="#2a0593"/>
<polygon points="1858.7,233.3 1887.6,180.3 1916.5,233.3" fill="#f0f921"/>
<polygon points="1858.7,1282.1 1887.6,1335.1 1916.5,1282.1" fill="#0d0887"/>
<polygon points="1858.7,232.8 1887.6,180.3 1916.5,232.8 1916.5,1282.6 1887.6,1335.1 1858.7,1282.6" fill="none" stroke="#000" stroke-width="3.33" stroke-linejoin="miter"/>
<line x1="1916.5" y1="337.8" x2="1932.8" y2="337.8" stroke="#000" stroke-width="3.33"/>
<text class="k" x="1946.2" y="351.8">40</text>
<line x1="1916.5" y1="547.7" x2="1932.8" y2="547.7" stroke="#000" stroke-width="3.33"/>
<text class="k" x="1946.2" y="561.7">30</text>
<line x1="1916.5" y1="757.7" x2="1932.8" y2="757.7" stroke="#000" stroke-width="3.33"/>
<text class="k" x="1946.2" y="771.7">20</text>
<line x1="1916.5" y1="967.7" x2="1932.8" y2="967.7" stroke="#000" stroke-width="3.33"/>
<text class="k" x="1946.2" y="981.7">10</text>
<line x1="1916.5" y1="1177.6" x2="1932.8" y2="1177.6" stroke="#000" stroke-width="3.33"/>
<text class="k" x="1946.2" y="1191.6">0</text>
</svg></body></html>
